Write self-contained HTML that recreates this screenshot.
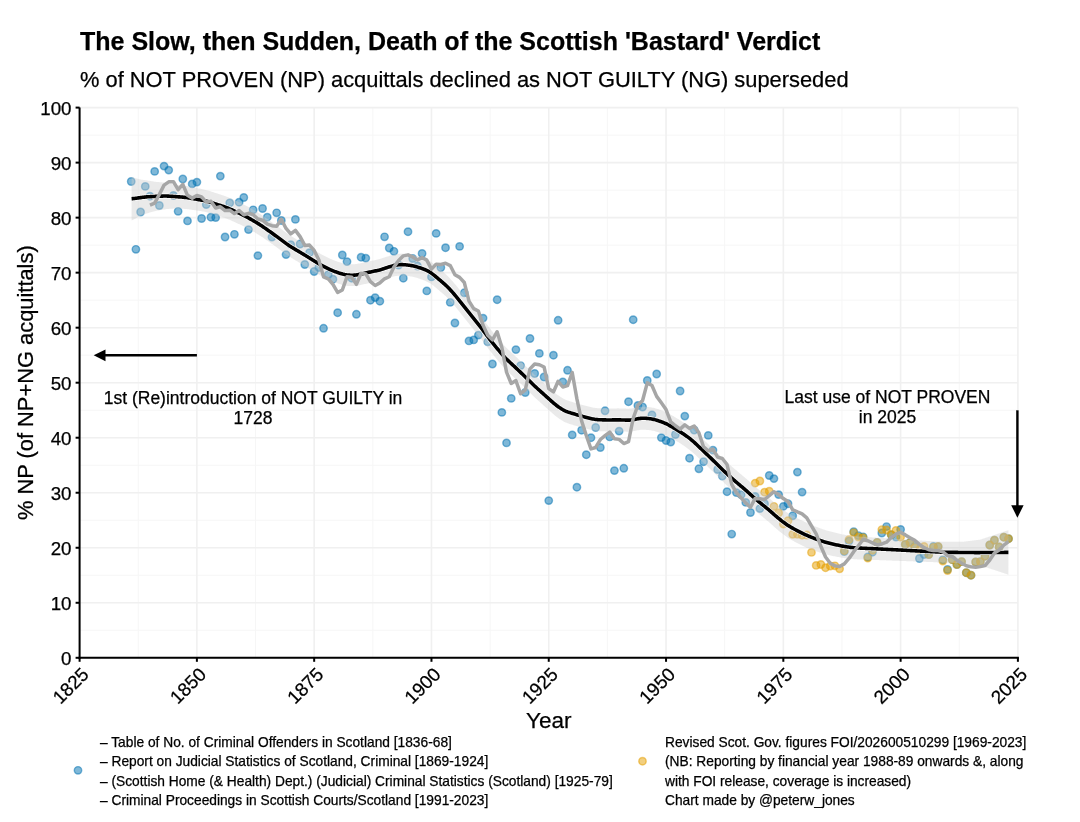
<!DOCTYPE html><html><head><meta charset="utf-8"><style>html,body{margin:0;padding:0;background:#fff;}svg{display:block;will-change:transform;}</style></head><body>
<svg width="1080" height="822" viewBox="0 0 1080 822" style="font-family:'Liberation Sans', sans-serif">
<style>text{stroke:#000;stroke-width:0.25px;}</style>
<rect width="1080" height="822" fill="#fff"/>
<line x1="138.24" y1="107.60" x2="138.24" y2="657.80" stroke="#F6F6F6" stroke-width="1"/><line x1="255.53" y1="107.60" x2="255.53" y2="657.80" stroke="#F6F6F6" stroke-width="1"/><line x1="372.82" y1="107.60" x2="372.82" y2="657.80" stroke="#F6F6F6" stroke-width="1"/><line x1="490.11" y1="107.60" x2="490.11" y2="657.80" stroke="#F6F6F6" stroke-width="1"/><line x1="607.39" y1="107.60" x2="607.39" y2="657.80" stroke="#F6F6F6" stroke-width="1"/><line x1="724.68" y1="107.60" x2="724.68" y2="657.80" stroke="#F6F6F6" stroke-width="1"/><line x1="841.97" y1="107.60" x2="841.97" y2="657.80" stroke="#F6F6F6" stroke-width="1"/><line x1="959.26" y1="107.60" x2="959.26" y2="657.80" stroke="#F6F6F6" stroke-width="1"/><line x1="79.60" y1="630.29" x2="1017.90" y2="630.29" stroke="#F6F6F6" stroke-width="1"/><line x1="79.60" y1="575.27" x2="1017.90" y2="575.27" stroke="#F6F6F6" stroke-width="1"/><line x1="79.60" y1="520.25" x2="1017.90" y2="520.25" stroke="#F6F6F6" stroke-width="1"/><line x1="79.60" y1="465.23" x2="1017.90" y2="465.23" stroke="#F6F6F6" stroke-width="1"/><line x1="79.60" y1="410.21" x2="1017.90" y2="410.21" stroke="#F6F6F6" stroke-width="1"/><line x1="79.60" y1="355.19" x2="1017.90" y2="355.19" stroke="#F6F6F6" stroke-width="1"/><line x1="79.60" y1="300.17" x2="1017.90" y2="300.17" stroke="#F6F6F6" stroke-width="1"/><line x1="79.60" y1="245.15" x2="1017.90" y2="245.15" stroke="#F6F6F6" stroke-width="1"/><line x1="79.60" y1="190.13" x2="1017.90" y2="190.13" stroke="#F6F6F6" stroke-width="1"/><line x1="79.60" y1="135.11" x2="1017.90" y2="135.11" stroke="#F6F6F6" stroke-width="1"/><line x1="79.60" y1="107.60" x2="79.60" y2="657.80" stroke="#F0F0F0" stroke-width="1.6"/><line x1="196.89" y1="107.60" x2="196.89" y2="657.80" stroke="#F0F0F0" stroke-width="1.6"/><line x1="314.17" y1="107.60" x2="314.17" y2="657.80" stroke="#F0F0F0" stroke-width="1.6"/><line x1="431.46" y1="107.60" x2="431.46" y2="657.80" stroke="#F0F0F0" stroke-width="1.6"/><line x1="548.75" y1="107.60" x2="548.75" y2="657.80" stroke="#F0F0F0" stroke-width="1.6"/><line x1="666.04" y1="107.60" x2="666.04" y2="657.80" stroke="#F0F0F0" stroke-width="1.6"/><line x1="783.33" y1="107.60" x2="783.33" y2="657.80" stroke="#F0F0F0" stroke-width="1.6"/><line x1="900.61" y1="107.60" x2="900.61" y2="657.80" stroke="#F0F0F0" stroke-width="1.6"/><line x1="1017.90" y1="107.60" x2="1017.90" y2="657.80" stroke="#F0F0F0" stroke-width="1.6"/><line x1="79.60" y1="657.80" x2="1017.90" y2="657.80" stroke="#F0F0F0" stroke-width="1.6"/><line x1="79.60" y1="602.78" x2="1017.90" y2="602.78" stroke="#F0F0F0" stroke-width="1.6"/><line x1="79.60" y1="547.76" x2="1017.90" y2="547.76" stroke="#F0F0F0" stroke-width="1.6"/><line x1="79.60" y1="492.74" x2="1017.90" y2="492.74" stroke="#F0F0F0" stroke-width="1.6"/><line x1="79.60" y1="437.72" x2="1017.90" y2="437.72" stroke="#F0F0F0" stroke-width="1.6"/><line x1="79.60" y1="382.70" x2="1017.90" y2="382.70" stroke="#F0F0F0" stroke-width="1.6"/><line x1="79.60" y1="327.68" x2="1017.90" y2="327.68" stroke="#F0F0F0" stroke-width="1.6"/><line x1="79.60" y1="272.66" x2="1017.90" y2="272.66" stroke="#F0F0F0" stroke-width="1.6"/><line x1="79.60" y1="217.64" x2="1017.90" y2="217.64" stroke="#F0F0F0" stroke-width="1.6"/><line x1="79.60" y1="162.62" x2="1017.90" y2="162.62" stroke="#F0F0F0" stroke-width="1.6"/><line x1="79.60" y1="107.60" x2="1017.90" y2="107.60" stroke="#F0F0F0" stroke-width="1.6"/>
<g fill="#0072B2" fill-opacity="0.5" stroke="#0072B2" stroke-opacity="0.5" stroke-width="1.45"><circle cx="131.21" cy="181.50" r="3.7"/><circle cx="135.90" cy="249.30" r="3.7"/><circle cx="140.59" cy="212.00" r="3.7"/><circle cx="145.28" cy="186.40" r="3.7"/><circle cx="149.97" cy="196.20" r="3.7"/><circle cx="154.66" cy="171.40" r="3.7"/><circle cx="159.36" cy="205.50" r="3.7"/><circle cx="164.05" cy="166.10" r="3.7"/><circle cx="168.74" cy="170.10" r="3.7"/><circle cx="173.43" cy="195.50" r="3.7"/><circle cx="178.12" cy="211.30" r="3.7"/><circle cx="182.81" cy="179.00" r="3.7"/><circle cx="187.50" cy="220.90" r="3.7"/><circle cx="192.20" cy="183.90" r="3.7"/><circle cx="196.89" cy="182.10" r="3.7"/><circle cx="201.58" cy="218.50" r="3.7"/><circle cx="206.27" cy="204.60" r="3.7"/><circle cx="210.96" cy="217.20" r="3.7"/><circle cx="215.65" cy="217.60" r="3.7"/><circle cx="220.34" cy="176.10" r="3.7"/><circle cx="225.04" cy="237.00" r="3.7"/><circle cx="229.73" cy="202.90" r="3.7"/><circle cx="234.42" cy="234.30" r="3.7"/><circle cx="239.11" cy="202.20" r="3.7"/><circle cx="243.80" cy="197.50" r="3.7"/><circle cx="248.49" cy="229.60" r="3.7"/><circle cx="253.19" cy="209.80" r="3.7"/><circle cx="257.88" cy="255.60" r="3.7"/><circle cx="262.57" cy="208.50" r="3.7"/><circle cx="267.26" cy="217.20" r="3.7"/><circle cx="271.95" cy="237.10" r="3.7"/><circle cx="276.64" cy="212.80" r="3.7"/><circle cx="281.33" cy="220.50" r="3.7"/><circle cx="286.03" cy="254.60" r="3.7"/><circle cx="290.72" cy="244.60" r="3.7"/><circle cx="295.41" cy="219.40" r="3.7"/><circle cx="300.10" cy="244.00" r="3.7"/><circle cx="304.79" cy="264.50" r="3.7"/><circle cx="309.48" cy="252.70" r="3.7"/><circle cx="314.17" cy="271.50" r="3.7"/><circle cx="318.87" cy="267.50" r="3.7"/><circle cx="323.56" cy="328.30" r="3.7"/><circle cx="328.25" cy="274.80" r="3.7"/><circle cx="332.94" cy="279.20" r="3.7"/><circle cx="337.63" cy="312.70" r="3.7"/><circle cx="342.32" cy="255.00" r="3.7"/><circle cx="347.02" cy="261.60" r="3.7"/><circle cx="351.71" cy="278.20" r="3.7"/><circle cx="356.40" cy="314.30" r="3.7"/><circle cx="361.09" cy="257.20" r="3.7"/><circle cx="365.78" cy="258.10" r="3.7"/><circle cx="370.47" cy="300.20" r="3.7"/><circle cx="375.16" cy="297.60" r="3.7"/><circle cx="379.86" cy="301.20" r="3.7"/><circle cx="384.55" cy="236.80" r="3.7"/><circle cx="389.24" cy="248.00" r="3.7"/><circle cx="393.93" cy="251.30" r="3.7"/><circle cx="398.62" cy="265.00" r="3.7"/><circle cx="403.31" cy="278.20" r="3.7"/><circle cx="408.00" cy="231.70" r="3.7"/><circle cx="412.70" cy="258.50" r="3.7"/><circle cx="417.39" cy="266.00" r="3.7"/><circle cx="422.08" cy="253.50" r="3.7"/><circle cx="426.77" cy="290.90" r="3.7"/><circle cx="431.46" cy="276.90" r="3.7"/><circle cx="436.15" cy="233.40" r="3.7"/><circle cx="440.85" cy="267.50" r="3.7"/><circle cx="445.54" cy="247.70" r="3.7"/><circle cx="450.23" cy="302.40" r="3.7"/><circle cx="454.92" cy="323.00" r="3.7"/><circle cx="459.61" cy="246.40" r="3.7"/><circle cx="464.30" cy="292.80" r="3.7"/><circle cx="468.99" cy="340.90" r="3.7"/><circle cx="473.69" cy="339.90" r="3.7"/><circle cx="478.38" cy="335.10" r="3.7"/><circle cx="483.07" cy="318.10" r="3.7"/><circle cx="487.76" cy="341.80" r="3.7"/><circle cx="492.45" cy="364.00" r="3.7"/><circle cx="497.14" cy="299.70" r="3.7"/><circle cx="501.84" cy="412.40" r="3.7"/><circle cx="506.53" cy="442.90" r="3.7"/><circle cx="511.22" cy="398.40" r="3.7"/><circle cx="515.91" cy="349.60" r="3.7"/><circle cx="520.60" cy="365.60" r="3.7"/><circle cx="525.29" cy="392.50" r="3.7"/><circle cx="529.98" cy="338.50" r="3.7"/><circle cx="534.68" cy="373.50" r="3.7"/><circle cx="539.37" cy="353.40" r="3.7"/><circle cx="544.06" cy="377.00" r="3.7"/><circle cx="548.75" cy="500.60" r="3.7"/><circle cx="553.44" cy="355.20" r="3.7"/><circle cx="558.13" cy="320.30" r="3.7"/><circle cx="562.82" cy="381.90" r="3.7"/><circle cx="567.52" cy="370.30" r="3.7"/><circle cx="572.21" cy="434.90" r="3.7"/><circle cx="576.90" cy="487.20" r="3.7"/><circle cx="581.59" cy="430.20" r="3.7"/><circle cx="586.28" cy="454.70" r="3.7"/><circle cx="590.97" cy="437.70" r="3.7"/><circle cx="595.67" cy="427.50" r="3.7"/><circle cx="600.36" cy="447.50" r="3.7"/><circle cx="605.05" cy="410.80" r="3.7"/><circle cx="609.74" cy="436.90" r="3.7"/><circle cx="614.43" cy="470.60" r="3.7"/><circle cx="619.12" cy="431.10" r="3.7"/><circle cx="623.81" cy="468.30" r="3.7"/><circle cx="628.51" cy="401.70" r="3.7"/><circle cx="633.20" cy="319.70" r="3.7"/><circle cx="637.89" cy="405.50" r="3.7"/><circle cx="642.58" cy="407.00" r="3.7"/><circle cx="647.27" cy="380.50" r="3.7"/><circle cx="651.96" cy="415.00" r="3.7"/><circle cx="656.65" cy="374.00" r="3.7"/><circle cx="661.35" cy="437.60" r="3.7"/><circle cx="666.04" cy="440.50" r="3.7"/><circle cx="670.73" cy="442.10" r="3.7"/><circle cx="675.42" cy="434.50" r="3.7"/><circle cx="680.11" cy="391.00" r="3.7"/><circle cx="684.80" cy="416.10" r="3.7"/><circle cx="689.50" cy="458.20" r="3.7"/><circle cx="694.19" cy="430.00" r="3.7"/><circle cx="698.88" cy="468.80" r="3.7"/><circle cx="703.57" cy="461.70" r="3.7"/><circle cx="708.26" cy="435.40" r="3.7"/><circle cx="712.95" cy="450.10" r="3.7"/><circle cx="717.64" cy="469.50" r="3.7"/><circle cx="722.34" cy="476.00" r="3.7"/><circle cx="727.03" cy="491.70" r="3.7"/><circle cx="731.72" cy="534.10" r="3.7"/><circle cx="736.41" cy="492.60" r="3.7"/><circle cx="741.10" cy="494.70" r="3.7"/><circle cx="745.79" cy="502.40" r="3.7"/><circle cx="750.48" cy="512.50" r="3.7"/><circle cx="755.18" cy="496.50" r="3.7"/><circle cx="759.87" cy="508.60" r="3.7"/><circle cx="764.56" cy="503.70" r="3.7"/><circle cx="769.25" cy="475.50" r="3.7"/><circle cx="773.94" cy="478.60" r="3.7"/><circle cx="778.63" cy="494.60" r="3.7"/><circle cx="783.33" cy="506.40" r="3.7"/><circle cx="788.02" cy="503.70" r="3.7"/><circle cx="792.71" cy="515.80" r="3.7"/><circle cx="797.40" cy="472.10" r="3.7"/><circle cx="802.09" cy="492.10" r="3.7"/><circle cx="844.31" cy="551.50" r="3.7"/><circle cx="849.01" cy="541.10" r="3.7"/><circle cx="853.70" cy="531.70" r="3.7"/><circle cx="858.39" cy="535.60" r="3.7"/><circle cx="863.08" cy="536.80" r="3.7"/><circle cx="867.77" cy="557.00" r="3.7"/><circle cx="872.46" cy="552.20" r="3.7"/><circle cx="877.15" cy="542.40" r="3.7"/><circle cx="881.85" cy="533.00" r="3.7"/><circle cx="886.54" cy="526.60" r="3.7"/><circle cx="891.23" cy="534.70" r="3.7"/><circle cx="895.92" cy="537.10" r="3.7"/><circle cx="900.61" cy="529.40" r="3.7"/><circle cx="905.30" cy="544.40" r="3.7"/><circle cx="910.00" cy="542.40" r="3.7"/><circle cx="914.69" cy="546.40" r="3.7"/><circle cx="919.38" cy="558.50" r="3.7"/><circle cx="924.07" cy="554.50" r="3.7"/><circle cx="928.76" cy="554.50" r="3.7"/><circle cx="933.45" cy="546.40" r="3.7"/><circle cx="938.14" cy="546.60" r="3.7"/><circle cx="942.84" cy="559.80" r="3.7"/><circle cx="947.53" cy="569.50" r="3.7"/><circle cx="952.22" cy="559.60" r="3.7"/><circle cx="956.91" cy="564.50" r="3.7"/><circle cx="961.60" cy="561.60" r="3.7"/><circle cx="966.29" cy="572.70" r="3.7"/><circle cx="970.99" cy="575.20" r="3.7"/><circle cx="975.68" cy="562.00" r="3.7"/><circle cx="980.37" cy="561.60" r="3.7"/><circle cx="985.06" cy="556.20" r="3.7"/><circle cx="989.75" cy="545.00" r="3.7"/><circle cx="994.44" cy="540.20" r="3.7"/><circle cx="999.13" cy="547.00" r="3.7"/><circle cx="1003.83" cy="537.20" r="3.7"/><circle cx="1008.52" cy="538.70" r="3.7"/></g>
<g fill="#E69F00" fill-opacity="0.5" stroke="#E69F00" stroke-opacity="0.5" stroke-width="1.45"><circle cx="755.18" cy="483.10" r="3.7"/><circle cx="759.87" cy="481.00" r="3.7"/><circle cx="764.56" cy="492.20" r="3.7"/><circle cx="769.25" cy="491.20" r="3.7"/><circle cx="773.94" cy="506.50" r="3.7"/><circle cx="778.63" cy="513.00" r="3.7"/><circle cx="783.33" cy="524.10" r="3.7"/><circle cx="788.02" cy="520.70" r="3.7"/><circle cx="792.71" cy="534.30" r="3.7"/><circle cx="797.40" cy="534.30" r="3.7"/><circle cx="802.09" cy="535.20" r="3.7"/><circle cx="806.78" cy="535.00" r="3.7"/><circle cx="811.47" cy="552.40" r="3.7"/><circle cx="816.17" cy="565.40" r="3.7"/><circle cx="820.86" cy="564.50" r="3.7"/><circle cx="825.55" cy="567.70" r="3.7"/><circle cx="830.24" cy="566.00" r="3.7"/><circle cx="834.93" cy="565.80" r="3.7"/><circle cx="839.62" cy="568.80" r="3.7"/><circle cx="844.31" cy="550.70" r="3.7"/><circle cx="849.01" cy="539.60" r="3.7"/><circle cx="853.70" cy="532.60" r="3.7"/><circle cx="858.39" cy="537.10" r="3.7"/><circle cx="863.08" cy="537.70" r="3.7"/><circle cx="867.77" cy="558.10" r="3.7"/><circle cx="872.46" cy="550.30" r="3.7"/><circle cx="877.15" cy="542.40" r="3.7"/><circle cx="881.85" cy="529.60" r="3.7"/><circle cx="886.54" cy="530.00" r="3.7"/><circle cx="891.23" cy="534.70" r="3.7"/><circle cx="895.92" cy="530.40" r="3.7"/><circle cx="900.61" cy="537.10" r="3.7"/><circle cx="905.30" cy="544.50" r="3.7"/><circle cx="910.00" cy="542.80" r="3.7"/><circle cx="914.69" cy="547.60" r="3.7"/><circle cx="919.38" cy="549.80" r="3.7"/><circle cx="924.07" cy="546.40" r="3.7"/><circle cx="928.76" cy="554.50" r="3.7"/><circle cx="933.45" cy="547.30" r="3.7"/><circle cx="938.14" cy="546.40" r="3.7"/><circle cx="942.84" cy="561.00" r="3.7"/><circle cx="947.53" cy="570.50" r="3.7"/><circle cx="952.22" cy="559.60" r="3.7"/><circle cx="956.91" cy="564.50" r="3.7"/><circle cx="961.60" cy="561.60" r="3.7"/><circle cx="966.29" cy="572.70" r="3.7"/><circle cx="970.99" cy="575.20" r="3.7"/><circle cx="975.68" cy="562.00" r="3.7"/><circle cx="980.37" cy="561.60" r="3.7"/><circle cx="985.06" cy="556.20" r="3.7"/><circle cx="989.75" cy="545.00" r="3.7"/><circle cx="994.44" cy="540.20" r="3.7"/><circle cx="999.13" cy="547.00" r="3.7"/><circle cx="1003.83" cy="537.20" r="3.7"/><circle cx="1008.52" cy="538.70" r="3.7"/></g>
<path d="M131.60,176.90 L132.60,177.24 L133.60,177.57 L134.60,177.88 L135.60,178.18 L136.60,178.47 L137.60,178.75 L138.60,179.04 L139.60,179.32 L140.60,179.60 L141.60,179.70 L142.60,179.80 L143.60,179.91 L144.60,180.04 L145.60,180.17 L146.60,180.32 L147.60,180.47 L148.60,180.64 L149.60,180.82 L150.60,181.00 L151.60,181.18 L152.60,181.36 L153.60,181.55 L154.60,181.73 L155.60,181.83 L156.60,181.91 L157.60,182.00 L158.60,182.09 L159.60,182.18 L160.60,182.27 L161.60,182.37 L162.60,182.47 L163.60,182.58 L164.60,182.71 L165.60,182.85 L166.60,183.00 L167.60,183.17 L168.60,183.36 L169.60,183.55 L170.60,183.76 L171.60,183.96 L172.60,184.17 L173.60,184.38 L174.60,184.59 L175.60,184.80 L176.60,184.92 L177.60,185.02 L178.60,185.12 L179.60,185.22 L180.60,185.33 L181.60,185.43 L182.60,185.54 L183.60,185.66 L184.60,185.78 L185.60,185.92 L186.60,186.07 L187.60,186.24 L188.60,186.41 L189.60,186.60 L190.60,186.79 L191.60,186.99 L192.60,187.19 L193.60,187.39 L194.60,187.59 L195.60,187.80 L196.60,188.00 L197.60,188.20 L198.60,188.41 L199.60,188.61 L200.60,188.81 L201.60,189.02 L202.60,189.24 L203.60,189.46 L204.60,189.69 L205.60,189.94 L206.60,190.20 L207.60,190.46 L208.60,190.75 L209.60,191.04 L210.60,191.35 L211.60,191.67 L212.60,191.99 L213.60,192.32 L214.60,192.64 L215.60,192.97 L216.60,193.29 L217.60,193.62 L218.60,193.94 L219.60,194.27 L220.60,194.60 L221.60,194.93 L222.60,195.26 L223.60,195.60 L224.60,195.95 L225.60,196.31 L226.60,196.69 L227.60,197.09 L228.60,197.50 L229.60,197.93 L230.60,198.37 L231.60,198.82 L232.60,199.28 L233.60,199.73 L234.60,200.19 L235.60,200.65 L236.60,201.11 L237.60,201.57 L238.60,202.03 L239.60,202.50 L240.60,202.97 L241.60,203.44 L242.60,203.92 L243.60,204.42 L244.60,204.93 L245.60,205.46 L246.60,206.00 L247.60,206.55 L248.60,207.12 L249.60,207.69 L250.60,208.26 L251.60,208.84 L252.60,209.41 L253.60,209.99 L254.60,210.58 L255.60,211.17 L256.60,211.76 L257.60,212.37 L258.60,212.99 L259.60,213.63 L260.60,214.28 L261.60,214.95 L262.60,215.63 L263.60,216.32 L264.60,217.02 L265.60,217.71 L266.60,218.41 L267.60,219.12 L268.60,219.82 L269.60,220.52 L270.60,221.23 L271.60,221.94 L272.60,222.66 L273.60,223.38 L274.60,224.11 L275.60,224.85 L276.60,225.59 L277.60,226.34 L278.60,227.09 L279.60,227.84 L280.60,228.60 L281.60,229.35 L282.60,230.11 L283.60,230.86 L284.60,231.60 L285.60,232.33 L286.60,233.06 L287.60,233.76 L288.60,234.44 L289.60,235.11 L290.60,235.75 L291.60,236.37 L292.60,236.99 L293.60,237.59 L294.60,238.19 L295.60,238.79 L296.60,239.39 L297.60,239.98 L298.60,240.58 L299.60,241.17 L300.60,241.77 L301.60,242.36 L302.60,242.96 L303.60,243.56 L304.60,244.16 L305.60,244.76 L306.60,245.37 L307.60,245.98 L308.60,246.60 L309.60,247.22 L310.60,247.84 L311.60,248.47 L312.60,249.09 L313.60,249.72 L314.60,250.35 L315.60,250.97 L316.60,251.59 L317.60,252.20 L318.60,252.79 L319.60,253.37 L320.60,253.93 L321.60,254.47 L322.60,255.00 L323.60,255.52 L324.60,256.02 L325.60,256.52 L326.60,257.02 L327.60,257.51 L328.60,257.99 L329.60,258.46 L330.60,258.93 L331.60,259.37 L332.60,259.79 L333.60,260.19 L334.60,260.58 L335.60,260.94 L336.60,261.29 L337.60,261.64 L338.60,261.97 L339.60,262.30 L340.60,262.62 L341.60,262.93 L342.60,263.21 L343.60,263.47 L344.60,263.69 L345.60,263.87 L346.60,264.02 L347.60,264.13 L348.60,264.21 L349.60,264.26 L350.60,264.30 L351.60,264.32 L352.60,264.32 L353.60,264.28 L354.60,264.22 L355.60,264.12 L356.60,263.98 L357.60,263.82 L358.60,263.62 L359.60,263.42 L360.60,263.20 L361.60,262.97 L362.60,262.74 L363.60,262.52 L364.60,262.29 L365.60,262.07 L366.60,261.85 L367.60,261.64 L368.60,261.43 L369.60,261.22 L370.60,261.01 L371.60,260.80 L372.60,260.59 L373.60,260.39 L374.60,260.18 L375.60,259.96 L376.60,259.74 L377.60,259.51 L378.60,259.27 L379.60,259.01 L380.60,258.73 L381.60,258.43 L382.60,258.12 L383.60,257.79 L384.60,257.46 L385.60,257.12 L386.60,256.78 L387.60,256.45 L388.60,256.13 L389.60,255.81 L390.60,255.50 L391.60,255.20 L392.60,254.91 L393.60,254.65 L394.60,254.40 L395.60,254.19 L396.60,254.02 L397.60,253.89 L398.60,253.79 L399.60,253.73 L400.60,253.70 L401.60,253.69 L402.60,253.70 L403.60,253.73 L404.60,253.79 L405.60,253.86 L406.60,253.95 L407.60,254.06 L408.60,254.19 L409.60,254.33 L410.60,254.49 L411.60,254.67 L412.60,254.86 L413.60,255.08 L414.60,255.31 L415.60,255.57 L416.60,255.84 L417.60,256.13 L418.60,256.43 L419.60,256.74 L420.60,257.07 L421.60,257.41 L422.60,257.77 L423.60,258.15 L424.60,258.55 L425.60,258.96 L426.60,259.41 L427.60,259.89 L428.60,260.41 L429.60,260.99 L430.60,261.63 L431.60,262.32 L432.60,263.06 L433.60,263.85 L434.60,264.66 L435.60,265.49 L436.60,266.33 L437.60,267.17 L438.60,268.01 L439.60,268.85 L440.60,269.69 L441.60,270.53 L442.60,271.38 L443.60,272.25 L444.60,273.13 L445.60,274.05 L446.60,274.99 L447.60,275.98 L448.60,277.00 L449.60,278.05 L450.60,279.13 L451.60,280.23 L452.60,281.35 L453.60,282.50 L454.60,283.66 L455.60,284.85 L456.60,286.06 L457.60,287.29 L458.60,288.53 L459.60,289.79 L460.60,291.05 L461.60,292.31 L462.60,293.57 L463.60,294.84 L464.60,296.10 L465.60,297.35 L466.60,298.60 L467.60,299.85 L468.60,301.09 L469.60,302.32 L470.60,303.55 L471.60,304.78 L472.60,306.00 L473.60,307.22 L474.60,308.45 L475.60,309.68 L476.60,310.92 L477.60,312.17 L478.60,313.43 L479.60,314.71 L480.60,316.00 L481.60,317.31 L482.60,318.63 L483.60,319.96 L484.60,321.29 L485.60,322.63 L486.60,323.96 L487.60,325.29 L488.60,326.62 L489.60,327.93 L490.60,329.22 L491.60,330.50 L492.60,331.76 L493.60,333.00 L494.60,334.23 L495.60,335.44 L496.60,336.65 L497.60,337.85 L498.60,339.04 L499.60,340.23 L500.60,341.42 L501.60,342.58 L502.60,343.73 L503.60,344.85 L504.60,345.93 L505.60,346.98 L506.60,347.99 L507.60,348.96 L508.60,349.91 L509.60,350.85 L510.60,351.77 L511.60,352.69 L512.60,353.62 L513.60,354.55 L514.60,355.48 L515.60,356.41 L516.60,357.35 L517.60,358.30 L518.60,359.24 L519.60,360.19 L520.60,361.14 L521.60,362.10 L522.60,363.05 L523.60,364.01 L524.60,364.97 L525.60,365.94 L526.60,366.91 L527.60,367.89 L528.60,368.87 L529.60,369.85 L530.60,370.83 L531.60,371.81 L532.60,372.78 L533.60,373.74 L534.60,374.68 L535.60,375.61 L536.60,376.53 L537.60,377.44 L538.60,378.34 L539.60,379.23 L540.60,380.13 L541.60,381.02 L542.60,381.92 L543.60,382.82 L544.60,383.72 L545.60,384.62 L546.60,385.52 L547.60,386.42 L548.60,387.32 L549.60,388.22 L550.60,389.11 L551.60,390.00 L552.60,390.88 L553.60,391.74 L554.60,392.58 L555.60,393.38 L556.60,394.16 L557.60,394.90 L558.60,395.61 L559.60,396.29 L560.60,396.94 L561.60,397.57 L562.60,398.17 L563.60,398.72 L564.60,399.24 L565.60,399.71 L566.60,400.13 L567.60,400.52 L568.60,400.87 L569.60,401.20 L570.60,401.51 L571.60,401.82 L572.60,402.12 L573.60,402.42 L574.60,402.72 L575.60,403.01 L576.60,403.31 L577.60,403.60 L578.60,403.88 L579.60,404.16 L580.60,404.44 L581.60,404.71 L582.60,404.97 L583.60,405.23 L584.60,405.49 L585.60,405.75 L586.60,406.01 L587.60,406.27 L588.60,406.52 L589.60,406.77 L590.60,407.02 L591.60,407.25 L592.60,407.47 L593.60,407.67 L594.60,407.84 L595.60,407.98 L596.60,408.09 L597.60,408.17 L598.60,408.23 L599.60,408.28 L600.60,408.32 L601.60,408.36 L602.60,408.39 L603.60,408.41 L604.60,408.44 L605.60,408.45 L606.60,408.47 L607.60,408.48 L608.60,408.48 L609.60,408.47 L610.60,408.46 L611.60,408.45 L612.60,408.43 L613.60,408.42 L614.60,408.40 L615.60,408.39 L616.60,408.38 L617.60,408.37 L618.60,408.37 L619.60,408.38 L620.60,408.41 L621.60,408.44 L622.60,408.48 L623.60,408.52 L624.60,408.57 L625.60,408.61 L626.60,408.64 L627.60,408.66 L628.60,408.64 L629.60,408.60 L630.60,408.52 L631.60,408.40 L632.60,408.26 L633.60,408.09 L634.60,407.90 L635.60,407.70 L636.60,407.50 L637.60,407.31 L638.60,407.13 L639.60,406.98 L640.60,406.86 L641.60,406.77 L642.60,406.73 L643.60,406.73 L644.60,406.76 L645.60,406.81 L646.60,406.89 L647.60,406.98 L648.60,407.08 L649.60,407.19 L650.60,407.32 L651.60,407.47 L652.60,407.65 L653.60,407.87 L654.60,408.11 L655.60,408.39 L656.60,408.69 L657.60,409.00 L658.60,409.34 L659.60,409.68 L660.60,410.02 L661.60,410.38 L662.60,410.75 L663.60,411.14 L664.60,411.55 L665.60,412.00 L666.60,412.47 L667.60,412.97 L668.60,413.50 L669.60,414.06 L670.60,414.62 L671.60,415.20 L672.60,415.78 L673.60,416.36 L674.60,416.95 L675.60,417.54 L676.60,418.13 L677.60,418.74 L678.60,419.35 L679.60,419.97 L680.60,420.61 L681.60,421.27 L682.60,421.93 L683.60,422.61 L684.60,423.29 L685.60,423.98 L686.60,424.69 L687.60,425.40 L688.60,426.14 L689.60,426.90 L690.60,427.69 L691.60,428.52 L692.60,429.38 L693.60,430.27 L694.60,431.18 L695.60,432.11 L696.60,433.05 L697.60,434.00 L698.60,434.95 L699.60,435.91 L700.60,436.86 L701.60,437.81 L702.60,438.77 L703.60,439.72 L704.60,440.68 L705.60,441.63 L706.60,442.59 L707.60,443.54 L708.60,444.50 L709.60,445.46 L710.60,446.42 L711.60,447.39 L712.60,448.36 L713.60,449.33 L714.60,450.30 L715.60,451.28 L716.60,452.27 L717.60,453.25 L718.60,454.23 L719.60,455.22 L720.60,456.19 L721.60,457.16 L722.60,458.12 L723.60,459.07 L724.60,460.00 L725.60,460.93 L726.60,461.84 L727.60,462.74 L728.60,463.63 L729.60,464.52 L730.60,465.41 L731.60,466.29 L732.60,467.17 L733.60,468.04 L734.60,468.91 L735.60,469.76 L736.60,470.62 L737.60,471.46 L738.60,472.30 L739.60,473.14 L740.60,473.98 L741.60,474.82 L742.60,475.66 L743.60,476.51 L744.60,477.36 L745.60,478.22 L746.60,479.09 L747.60,479.97 L748.60,480.85 L749.60,481.74 L750.60,482.63 L751.60,483.52 L752.60,484.41 L753.60,485.29 L754.60,486.17 L755.60,487.03 L756.60,487.89 L757.60,488.72 L758.60,489.55 L759.60,490.36 L760.60,491.17 L761.60,491.96 L762.60,492.76 L763.60,493.56 L764.60,494.35 L765.60,495.15 L766.60,495.96 L767.60,496.77 L768.60,497.60 L769.60,498.44 L770.60,499.29 L771.60,500.15 L772.60,501.02 L773.60,501.90 L774.60,502.77 L775.60,503.64 L776.60,504.50 L777.60,505.34 L778.60,506.17 L779.60,506.97 L780.60,507.76 L781.60,508.52 L782.60,509.28 L783.60,510.02 L784.60,510.74 L785.60,511.45 L786.60,512.13 L787.60,512.79 L788.60,513.43 L789.60,514.04 L790.60,514.62 L791.60,515.19 L792.60,515.75 L793.60,516.29 L794.60,516.83 L795.60,517.36 L796.60,517.88 L797.60,518.39 L798.60,518.90 L799.60,519.39 L800.60,519.88 L801.60,520.37 L802.60,520.86 L803.60,521.36 L804.60,521.86 L805.60,522.34 L806.60,522.80 L807.60,523.26 L808.60,523.70 L809.60,524.14 L810.60,524.56 L811.60,524.98 L812.60,525.40 L813.60,525.80 L814.60,526.21 L815.60,526.60 L816.60,526.99 L817.60,527.37 L818.60,527.75 L819.60,528.12 L820.60,528.48 L821.60,528.84 L822.60,529.19 L823.60,529.53 L824.60,529.86 L825.60,530.17 L826.60,530.47 L827.60,530.76 L828.60,531.04 L829.60,531.31 L830.60,531.58 L831.60,531.84 L832.60,532.10 L833.60,532.35 L834.60,532.59 L835.60,532.83 L836.60,533.07 L837.60,533.30 L838.60,533.53 L839.60,533.75 L840.60,533.97 L841.60,534.18 L842.60,534.39 L843.60,534.59 L844.60,534.78 L845.60,534.97 L846.60,535.15 L847.60,535.32 L848.60,535.48 L849.60,535.64 L850.60,535.79 L851.60,535.93 L852.60,536.06 L853.60,536.17 L854.60,536.26 L855.60,536.35 L856.60,536.42 L857.60,536.49 L858.60,536.56 L859.60,536.62 L860.60,536.68 L861.60,536.74 L862.60,536.81 L863.60,536.87 L864.60,536.93 L865.60,536.99 L866.60,537.06 L867.60,537.12 L868.60,537.18 L869.60,537.24 L870.60,537.31 L871.60,537.37 L872.60,537.43 L873.60,537.49 L874.60,537.55 L875.60,537.62 L876.60,537.68 L877.60,537.74 L878.60,537.80 L879.60,537.87 L880.60,537.93 L881.60,537.99 L882.60,538.06 L883.60,538.12 L884.60,538.18 L885.60,538.25 L886.60,538.31 L887.60,538.38 L888.60,538.44 L889.60,538.51 L890.60,538.57 L891.60,538.64 L892.60,538.70 L893.60,538.76 L894.60,538.83 L895.60,538.89 L896.60,538.96 L897.60,539.02 L898.60,539.09 L899.60,539.15 L900.60,539.22 L901.60,539.28 L902.60,539.35 L903.60,539.41 L904.60,539.48 L905.60,539.54 L906.60,539.60 L907.60,539.67 L908.60,539.73 L909.60,539.80 L910.60,539.86 L911.60,539.93 L912.60,539.99 L913.60,540.06 L914.60,540.12 L915.60,540.19 L916.60,540.25 L917.60,540.32 L918.60,540.38 L919.60,540.44 L920.60,540.51 L921.60,540.57 L922.60,540.64 L923.60,540.70 L924.60,540.77 L925.60,540.83 L926.60,540.90 L927.60,540.96 L928.60,541.03 L929.60,541.09 L930.60,541.15 L931.60,541.22 L932.60,541.28 L933.60,541.35 L934.60,541.39 L935.60,541.43 L936.60,541.48 L937.60,541.52 L938.60,541.56 L939.60,541.60 L940.60,541.65 L941.60,541.68 L942.60,541.72 L943.60,541.75 L944.60,541.77 L945.60,541.79 L946.60,541.81 L947.60,541.82 L948.60,541.83 L949.60,541.83 L950.60,541.84 L951.60,541.84 L952.60,541.84 L953.60,541.84 L954.60,541.85 L955.60,541.85 L956.60,541.85 L957.60,541.85 L958.60,541.86 L959.60,541.86 L960.60,541.86 L961.60,541.86 L962.60,541.74 L963.60,541.63 L964.60,541.51 L965.60,541.39 L966.60,541.27 L967.60,541.15 L968.60,541.03 L969.60,540.92 L970.60,540.80 L971.60,540.68 L972.60,540.56 L973.60,540.44 L974.60,540.31 L975.60,540.19 L976.60,540.06 L977.60,539.94 L978.60,539.81 L979.60,539.67 L980.60,539.50 L981.60,539.17 L982.60,538.84 L983.60,538.51 L984.60,538.18 L985.60,537.85 L986.60,537.52 L987.60,537.19 L988.60,536.86 L989.60,536.53 L990.60,536.21 L991.60,535.88 L992.60,535.55 L993.60,535.22 L994.60,534.89 L995.60,534.56 L996.60,534.22 L997.60,533.87 L998.60,533.53 L999.60,533.18 L1000.60,532.84 L1001.60,532.49 L1002.60,532.14 L1003.60,531.80 L1004.60,531.45 L1005.60,531.11 L1006.60,530.76 L1007.60,530.42 L1008.40,530.15 L1008.40,574.67 L1007.60,574.40 L1006.60,574.06 L1005.60,573.73 L1004.60,573.39 L1003.60,573.06 L1002.60,572.73 L1001.60,572.39 L1000.60,572.06 L999.60,571.73 L998.60,571.39 L997.60,571.06 L996.60,570.73 L995.60,570.40 L994.60,570.08 L993.60,569.76 L992.60,569.45 L991.60,569.13 L990.60,568.81 L989.60,568.50 L988.60,568.18 L987.60,567.86 L986.60,567.55 L985.60,567.23 L984.60,566.91 L983.60,566.60 L982.60,566.28 L981.60,565.96 L980.60,565.65 L979.60,565.48 L978.60,565.35 L977.60,565.23 L976.60,565.10 L975.60,564.97 L974.60,564.84 L973.60,564.71 L972.60,564.57 L971.60,564.44 L970.60,564.30 L969.60,564.16 L968.60,564.02 L967.60,563.89 L966.60,563.75 L965.60,563.61 L964.60,563.47 L963.60,563.34 L962.60,563.20 L961.60,563.06 L960.60,563.05 L959.60,563.03 L958.60,563.01 L957.60,563.00 L956.60,562.98 L955.60,562.96 L954.60,562.95 L953.60,562.93 L952.60,562.91 L951.60,562.90 L950.60,562.88 L949.60,562.86 L948.60,562.84 L947.60,562.82 L946.60,562.80 L945.60,562.77 L944.60,562.73 L943.60,562.69 L942.60,562.65 L941.60,562.60 L940.60,562.55 L939.60,562.49 L938.60,562.44 L937.60,562.38 L936.60,562.32 L935.60,562.26 L934.60,562.21 L933.60,562.15 L932.60,562.11 L931.60,562.07 L930.60,562.03 L929.60,562.00 L928.60,561.96 L927.60,561.92 L926.60,561.89 L925.60,561.85 L924.60,561.81 L923.60,561.77 L922.60,561.74 L921.60,561.70 L920.60,561.66 L919.60,561.63 L918.60,561.59 L917.60,561.55 L916.60,561.52 L915.60,561.48 L914.60,561.44 L913.60,561.40 L912.60,561.37 L911.60,561.33 L910.60,561.29 L909.60,561.26 L908.60,561.22 L907.60,561.18 L906.60,561.15 L905.60,561.11 L904.60,561.07 L903.60,561.03 L902.60,561.00 L901.60,560.96 L900.60,560.92 L899.60,560.89 L898.60,560.85 L897.60,560.81 L896.60,560.78 L895.60,560.74 L894.60,560.70 L893.60,560.66 L892.60,560.63 L891.60,560.59 L890.60,560.55 L889.60,560.52 L888.60,560.48 L887.60,560.44 L886.60,560.41 L885.60,560.37 L884.60,560.33 L883.60,560.30 L882.60,560.26 L881.60,560.22 L880.60,560.19 L879.60,560.15 L878.60,560.12 L877.60,560.08 L876.60,560.05 L875.60,560.01 L874.60,559.98 L873.60,559.94 L872.60,559.91 L871.60,559.87 L870.60,559.84 L869.60,559.80 L868.60,559.77 L867.60,559.73 L866.60,559.70 L865.60,559.67 L864.60,559.63 L863.60,559.60 L862.60,559.56 L861.60,559.53 L860.60,559.49 L859.60,559.46 L858.60,559.42 L857.60,559.38 L856.60,559.34 L855.60,559.29 L854.60,559.24 L853.60,559.17 L852.60,559.10 L851.60,559.01 L850.60,558.91 L849.60,558.80 L848.60,558.68 L847.60,558.55 L846.60,558.42 L845.60,558.28 L844.60,558.13 L843.60,557.98 L842.60,557.82 L841.60,557.65 L840.60,557.48 L839.60,557.30 L838.60,557.11 L837.60,556.93 L836.60,556.73 L835.60,556.54 L834.60,556.33 L833.60,556.13 L832.60,555.91 L831.60,555.69 L830.60,555.47 L829.60,555.24 L828.60,555.01 L827.60,554.77 L826.60,554.52 L825.60,554.26 L824.60,553.98 L823.60,553.70 L822.60,553.40 L821.60,553.09 L820.60,552.77 L819.60,552.44 L818.60,552.11 L817.60,551.77 L816.60,551.43 L815.60,551.08 L814.60,550.72 L813.60,550.36 L812.60,549.99 L811.60,549.61 L810.60,549.23 L809.60,548.85 L808.60,548.45 L807.60,548.05 L806.60,547.63 L805.60,547.20 L804.60,546.76 L803.60,546.31 L802.60,545.84 L801.60,545.36 L800.60,544.85 L799.60,544.34 L798.60,543.82 L797.60,543.29 L796.60,542.76 L795.60,542.21 L794.60,541.66 L793.60,541.10 L792.60,540.54 L791.60,539.96 L790.60,539.37 L789.60,538.76 L788.60,538.13 L787.60,537.47 L786.60,536.79 L785.60,536.08 L784.60,535.35 L783.60,534.60 L782.60,533.84 L781.60,533.07 L780.60,532.27 L779.60,531.47 L778.60,530.64 L777.60,529.79 L776.60,528.93 L775.60,528.05 L774.60,527.16 L773.60,526.26 L772.60,525.36 L771.60,524.47 L770.60,523.58 L769.60,522.71 L768.60,521.85 L767.60,521.00 L766.60,520.16 L765.60,519.33 L764.60,518.51 L763.60,517.69 L762.60,516.87 L761.60,516.06 L760.60,515.23 L759.60,514.41 L758.60,513.57 L757.60,512.73 L756.60,511.87 L755.60,510.99 L754.60,510.10 L753.60,509.21 L752.60,508.30 L751.60,507.39 L750.60,506.47 L749.60,505.56 L748.60,504.65 L747.60,503.74 L746.60,502.84 L745.60,501.95 L744.60,501.07 L743.60,500.19 L742.60,499.33 L741.60,498.46 L740.60,497.60 L739.60,496.74 L738.60,495.88 L737.60,495.01 L736.60,494.15 L735.60,493.27 L734.60,492.39 L733.60,491.50 L732.60,490.61 L731.60,489.71 L730.60,488.80 L729.60,487.90 L728.60,486.98 L727.60,486.07 L726.60,485.14 L725.60,484.21 L724.60,483.27 L723.60,482.31 L722.60,481.34 L721.60,480.36 L720.60,479.36 L719.60,478.36 L718.60,477.36 L717.60,476.35 L716.60,475.35 L715.60,474.34 L714.60,473.34 L713.60,472.35 L712.60,471.36 L711.60,470.39 L710.60,469.42 L709.60,468.46 L708.60,467.50 L707.60,466.54 L706.60,465.59 L705.60,464.63 L704.60,463.68 L703.60,462.72 L702.60,461.77 L701.60,460.81 L700.60,459.86 L699.60,458.91 L698.60,457.95 L697.60,457.00 L696.60,456.05 L695.60,455.11 L694.60,454.18 L693.60,453.27 L692.60,452.38 L691.60,451.52 L690.60,450.69 L689.60,449.90 L688.60,449.14 L687.60,448.40 L686.60,447.69 L685.60,446.98 L684.60,446.29 L683.60,445.61 L682.60,444.93 L681.60,444.27 L680.60,443.61 L679.60,442.97 L678.60,442.35 L677.60,441.74 L676.60,441.13 L675.60,440.54 L674.60,439.95 L673.60,439.36 L672.60,438.78 L671.60,438.20 L670.60,437.62 L669.60,437.06 L668.60,436.50 L667.60,435.97 L666.60,435.47 L665.60,435.00 L664.60,434.55 L663.60,434.14 L662.60,433.75 L661.60,433.38 L660.60,433.02 L659.60,432.68 L658.60,432.34 L657.60,432.00 L656.60,431.69 L655.60,431.39 L654.60,431.11 L653.60,430.87 L652.60,430.65 L651.60,430.47 L650.60,430.32 L649.60,430.19 L648.60,430.08 L647.60,429.98 L646.60,429.89 L645.60,429.81 L644.60,429.76 L643.60,429.73 L642.60,429.73 L641.60,429.77 L640.60,429.86 L639.60,429.98 L638.60,430.13 L637.60,430.31 L636.60,430.50 L635.60,430.70 L634.60,430.90 L633.60,431.09 L632.60,431.26 L631.60,431.40 L630.60,431.52 L629.60,431.60 L628.60,431.64 L627.60,431.66 L626.60,431.64 L625.60,431.61 L624.60,431.57 L623.60,431.52 L622.60,431.48 L621.60,431.44 L620.60,431.41 L619.60,431.38 L618.60,431.37 L617.60,431.36 L616.60,431.36 L615.60,431.37 L614.60,431.38 L613.60,431.39 L612.60,431.40 L611.60,431.41 L610.60,431.42 L609.60,431.42 L608.60,431.42 L607.60,431.41 L606.60,431.40 L605.60,431.38 L604.60,431.35 L603.60,431.32 L602.60,431.29 L601.60,431.26 L600.60,431.22 L599.60,431.17 L598.60,431.12 L597.60,431.05 L596.60,430.96 L595.60,430.84 L594.60,430.70 L593.60,430.52 L592.60,430.32 L591.60,430.09 L590.60,429.85 L589.60,429.60 L588.60,429.35 L587.60,429.09 L586.60,428.83 L585.60,428.56 L584.60,428.30 L583.60,428.03 L582.60,427.77 L581.60,427.49 L580.60,427.22 L579.60,426.94 L578.60,426.65 L577.60,426.36 L576.60,426.06 L575.60,425.77 L574.60,425.46 L573.60,425.16 L572.60,424.86 L571.60,424.55 L570.60,424.24 L569.60,423.92 L568.60,423.58 L567.60,423.22 L566.60,422.83 L565.60,422.41 L564.60,421.93 L563.60,421.41 L562.60,420.84 L561.60,420.24 L560.60,419.61 L559.60,418.95 L558.60,418.26 L557.60,417.55 L556.60,416.80 L555.60,416.02 L554.60,415.21 L553.60,414.37 L552.60,413.50 L551.60,412.62 L550.60,411.72 L549.60,410.82 L548.60,409.92 L547.60,409.01 L546.60,408.11 L545.60,407.20 L544.60,406.30 L543.60,405.39 L542.60,404.49 L541.60,403.59 L540.60,402.69 L539.60,401.79 L538.60,400.89 L537.60,399.98 L536.60,399.07 L535.60,398.14 L534.60,397.21 L533.60,396.26 L532.60,395.30 L531.60,394.32 L530.60,393.34 L529.60,392.35 L528.60,391.37 L527.60,390.38 L526.60,389.40 L525.60,388.42 L524.60,387.45 L523.60,386.48 L522.60,385.52 L521.60,384.56 L520.60,383.60 L519.60,382.64 L518.60,381.69 L517.60,380.74 L516.60,379.79 L515.60,378.84 L514.60,377.90 L513.60,376.97 L512.60,376.03 L511.60,375.10 L510.60,374.18 L509.60,373.25 L508.60,372.31 L507.60,371.35 L506.60,370.37 L505.60,369.36 L504.60,368.31 L503.60,367.22 L502.60,366.09 L501.60,364.94 L500.60,363.77 L499.60,362.58 L498.60,361.39 L497.60,360.18 L496.60,358.98 L495.60,357.77 L494.60,356.55 L493.60,355.32 L492.60,354.07 L491.60,352.81 L490.60,351.53 L489.60,350.23 L488.60,348.91 L487.60,347.58 L486.60,346.25 L485.60,344.91 L484.60,343.56 L483.60,342.23 L482.60,340.89 L481.60,339.57 L480.60,338.25 L479.60,336.95 L478.60,335.67 L477.60,334.40 L476.60,333.15 L475.60,331.91 L474.60,330.67 L473.60,329.44 L472.60,328.21 L471.60,326.98 L470.60,325.75 L469.60,324.52 L468.60,323.28 L467.60,322.03 L466.60,320.78 L465.60,319.53 L464.60,318.27 L463.60,317.00 L462.60,315.73 L461.60,314.46 L460.60,313.19 L459.60,311.93 L458.60,310.67 L457.60,309.42 L456.60,308.19 L455.60,306.97 L454.60,305.78 L453.60,304.61 L452.60,303.46 L451.60,302.33 L450.60,301.22 L449.60,300.14 L448.60,299.08 L447.60,298.06 L446.60,297.07 L445.60,296.12 L444.60,295.20 L443.60,294.31 L442.60,293.44 L441.60,292.59 L440.60,291.74 L439.60,290.89 L438.60,290.05 L437.60,289.20 L436.60,288.35 L435.60,287.51 L434.60,286.68 L433.60,285.86 L432.60,285.07 L431.60,284.32 L430.60,283.62 L429.60,282.98 L428.60,282.40 L427.60,281.88 L426.60,281.39 L425.60,280.95 L424.60,280.53 L423.60,280.13 L422.60,279.75 L421.60,279.39 L420.60,279.04 L419.60,278.71 L418.60,278.39 L417.60,278.09 L416.60,277.80 L415.60,277.52 L414.60,277.26 L413.60,277.03 L412.60,276.81 L411.60,276.61 L410.60,276.43 L409.60,276.27 L408.60,276.12 L407.60,275.99 L406.60,275.88 L405.60,275.78 L404.60,275.71 L403.60,275.65 L402.60,275.62 L401.60,275.60 L400.60,275.61 L399.60,275.64 L398.60,275.70 L397.60,275.79 L396.60,275.92 L395.60,276.09 L394.60,276.30 L393.60,276.54 L392.60,276.80 L391.60,277.09 L390.60,277.38 L389.60,277.69 L388.60,278.00 L387.60,278.33 L386.60,278.66 L385.60,278.99 L384.60,279.32 L383.60,279.65 L382.60,279.98 L381.60,280.29 L380.60,280.58 L379.60,280.86 L378.60,281.12 L377.60,281.36 L376.60,281.59 L375.60,281.81 L374.60,282.02 L373.60,282.22 L372.60,282.43 L371.60,282.63 L370.60,282.84 L369.60,283.04 L368.60,283.25 L367.60,283.46 L366.60,283.67 L365.60,283.88 L364.60,284.10 L363.60,284.32 L362.60,284.55 L361.60,284.77 L360.60,284.99 L359.60,285.21 L358.60,285.42 L357.60,285.61 L356.60,285.77 L355.60,285.90 L354.60,286.00 L353.60,286.06 L352.60,286.09 L351.60,286.09 L350.60,286.07 L349.60,286.03 L348.60,285.97 L347.60,285.89 L346.60,285.78 L345.60,285.63 L344.60,285.44 L343.60,285.22 L342.60,284.96 L341.60,284.67 L340.60,284.36 L339.60,284.04 L338.60,283.71 L337.60,283.37 L336.60,283.02 L335.60,282.67 L334.60,282.30 L333.60,281.92 L332.60,281.51 L331.60,281.08 L330.60,280.64 L329.60,280.17 L328.60,279.70 L327.60,279.21 L326.60,278.72 L325.60,278.22 L324.60,277.72 L323.60,277.21 L322.60,276.69 L321.60,276.16 L320.60,275.61 L319.60,275.05 L318.60,274.47 L317.60,273.87 L316.60,273.26 L315.60,272.64 L314.60,272.02 L313.60,271.39 L312.60,270.76 L311.60,270.12 L310.60,269.50 L309.60,268.87 L308.60,268.25 L307.60,267.63 L306.60,267.01 L305.60,266.40 L304.60,265.80 L303.60,265.20 L302.60,264.59 L301.60,263.99 L300.60,263.40 L299.60,262.80 L298.60,262.20 L297.60,261.60 L296.60,261.00 L295.60,260.40 L294.60,259.80 L293.60,259.20 L292.60,258.59 L291.60,257.98 L290.60,257.35 L289.60,256.71 L288.60,256.05 L287.60,255.37 L286.60,254.67 L285.60,253.96 L284.60,253.23 L283.60,252.49 L282.60,251.74 L281.60,251.00 L280.60,250.25 L279.60,249.50 L278.60,248.75 L277.60,248.00 L276.60,247.26 L275.60,246.52 L274.60,245.79 L273.60,245.06 L272.60,244.34 L271.60,243.63 L270.60,242.92 L269.60,242.22 L268.60,241.52 L267.60,240.82 L266.60,240.13 L265.60,239.43 L264.60,238.74 L263.60,238.05 L262.60,237.37 L261.60,236.69 L260.60,236.03 L259.60,235.38 L258.60,234.74 L257.60,234.13 L256.60,233.52 L255.60,232.93 L254.60,232.35 L253.60,231.77 L252.60,231.20 L251.60,230.62 L250.60,230.05 L249.60,229.48 L248.60,228.92 L247.60,228.36 L246.60,227.81 L245.60,227.27 L244.60,226.75 L243.60,226.24 L242.60,225.75 L241.60,225.27 L240.60,224.80 L239.60,224.34 L238.60,223.88 L237.60,223.42 L236.60,222.97 L235.60,222.51 L234.60,222.06 L233.60,221.60 L232.60,221.15 L231.60,220.70 L230.60,220.26 L229.60,219.82 L228.60,219.40 L227.60,218.99 L226.60,218.60 L225.60,218.22 L224.60,217.86 L223.60,217.52 L222.60,217.18 L221.60,216.86 L220.60,216.53 L219.60,216.21 L218.60,215.89 L217.60,215.56 L216.60,215.24 L215.60,214.92 L214.60,214.60 L213.60,214.28 L212.60,213.96 L211.60,213.65 L210.60,213.33 L209.60,213.03 L208.60,212.74 L207.60,212.46 L206.60,212.20 L205.60,211.98 L204.60,211.78 L203.60,211.60 L202.60,211.43 L201.60,211.27 L200.60,211.11 L199.60,210.96 L198.60,210.81 L197.60,210.66 L196.60,210.51 L195.60,210.36 L194.60,210.21 L193.60,210.06 L192.60,209.91 L191.60,209.76 L190.60,209.61 L189.60,209.47 L188.60,209.34 L187.60,209.22 L186.60,209.10 L185.60,209.01 L184.60,208.92 L183.60,208.85 L182.60,208.78 L181.60,208.73 L180.60,208.67 L179.60,208.62 L178.60,208.57 L177.60,208.53 L176.60,208.48 L175.60,208.45 L174.60,208.52 L173.60,208.58 L172.60,208.64 L171.60,208.71 L170.60,208.78 L169.60,208.85 L168.60,208.93 L167.60,209.02 L166.60,209.12 L165.60,209.24 L164.60,209.38 L163.60,209.53 L162.60,209.69 L161.60,209.86 L160.60,210.04 L159.60,210.23 L158.60,210.41 L157.60,210.60 L156.60,210.78 L155.60,210.97 L154.60,211.16 L153.60,211.45 L152.60,211.73 L151.60,212.01 L150.60,212.30 L149.60,212.59 L148.60,212.88 L147.60,213.19 L146.60,213.50 L145.60,213.82 L144.60,214.16 L143.60,214.50 L142.60,214.86 L141.60,215.23 L140.60,215.60 L139.60,216.16 L138.60,216.73 L137.60,217.30 L136.60,217.87 L135.60,218.43 L134.60,218.98 L133.60,219.53 L132.60,220.05 L131.60,220.56Z" fill="#CCCCCC" fill-opacity="0.42" stroke="none"/>
<path d="M131.60,198.73 L132.60,198.65 L133.60,198.55 L134.60,198.43 L135.60,198.30 L136.60,198.17 L137.60,198.03 L138.60,197.89 L139.60,197.74 L140.60,197.60 L141.60,197.46 L142.60,197.33 L143.60,197.21 L144.60,197.10 L145.60,197.00 L146.60,196.91 L147.60,196.83 L148.60,196.76 L149.60,196.70 L150.60,196.65 L151.60,196.60 L152.60,196.55 L153.60,196.50 L154.60,196.45 L155.60,196.40 L156.60,196.35 L157.60,196.30 L158.60,196.25 L159.60,196.20 L160.60,196.16 L161.60,196.12 L162.60,196.08 L163.60,196.06 L164.60,196.04 L165.60,196.04 L166.60,196.06 L167.60,196.10 L168.60,196.15 L169.60,196.20 L170.60,196.27 L171.60,196.34 L172.60,196.41 L173.60,196.48 L174.60,196.55 L175.60,196.63 L176.60,196.70 L177.60,196.78 L178.60,196.85 L179.60,196.92 L180.60,197.00 L181.60,197.08 L182.60,197.16 L183.60,197.25 L184.60,197.35 L185.60,197.46 L186.60,197.59 L187.60,197.73 L188.60,197.88 L189.60,198.04 L190.60,198.20 L191.60,198.37 L192.60,198.55 L193.60,198.72 L194.60,198.90 L195.60,199.08 L196.60,199.25 L197.60,199.43 L198.60,199.61 L199.60,199.78 L200.60,199.96 L201.60,200.14 L202.60,200.33 L203.60,200.53 L204.60,200.73 L205.60,200.96 L206.60,201.20 L207.60,201.46 L208.60,201.74 L209.60,202.04 L210.60,202.34 L211.60,202.66 L212.60,202.98 L213.60,203.30 L214.60,203.62 L215.60,203.94 L216.60,204.27 L217.60,204.59 L218.60,204.91 L219.60,205.24 L220.60,205.56 L221.60,205.89 L222.60,206.22 L223.60,206.56 L224.60,206.91 L225.60,207.27 L226.60,207.64 L227.60,208.04 L228.60,208.45 L229.60,208.88 L230.60,209.31 L231.60,209.76 L232.60,210.21 L233.60,210.67 L234.60,211.12 L235.60,211.58 L236.60,212.04 L237.60,212.50 L238.60,212.96 L239.60,213.42 L240.60,213.88 L241.60,214.36 L242.60,214.84 L243.60,215.33 L244.60,215.84 L245.60,216.36 L246.60,216.90 L247.60,217.45 L248.60,218.02 L249.60,218.58 L250.60,219.15 L251.60,219.73 L252.60,220.30 L253.60,220.88 L254.60,221.46 L255.60,222.05 L256.60,222.64 L257.60,223.25 L258.60,223.87 L259.60,224.50 L260.60,225.16 L261.60,225.82 L262.60,226.50 L263.60,227.19 L264.60,227.88 L265.60,228.57 L266.60,229.27 L267.60,229.97 L268.60,230.67 L269.60,231.37 L270.60,232.08 L271.60,232.79 L272.60,233.50 L273.60,234.22 L274.60,234.95 L275.60,235.68 L276.60,236.43 L277.60,237.17 L278.60,237.92 L279.60,238.67 L280.60,239.42 L281.60,240.18 L282.60,240.93 L283.60,241.67 L284.60,242.41 L285.60,243.15 L286.60,243.86 L287.60,244.57 L288.60,245.25 L289.60,245.91 L290.60,246.55 L291.60,247.18 L292.60,247.79 L293.60,248.40 L294.60,249.00 L295.60,249.60 L296.60,250.19 L297.60,250.79 L298.60,251.39 L299.60,251.98 L300.60,252.58 L301.60,253.18 L302.60,253.78 L303.60,254.38 L304.60,254.98 L305.60,255.58 L306.60,256.19 L307.60,256.80 L308.60,257.42 L309.60,258.04 L310.60,258.67 L311.60,259.29 L312.60,259.92 L313.60,260.55 L314.60,261.18 L315.60,261.81 L316.60,262.42 L317.60,263.03 L318.60,263.63 L319.60,264.21 L320.60,264.77 L321.60,265.32 L322.60,265.85 L323.60,266.36 L324.60,266.87 L325.60,267.37 L326.60,267.87 L327.60,268.36 L328.60,268.84 L329.60,269.32 L330.60,269.78 L331.60,270.23 L332.60,270.65 L333.60,271.05 L334.60,271.44 L335.60,271.80 L336.60,272.16 L337.60,272.50 L338.60,272.84 L339.60,273.17 L340.60,273.49 L341.60,273.80 L342.60,274.09 L343.60,274.34 L344.60,274.57 L345.60,274.75 L346.60,274.90 L347.60,275.01 L348.60,275.09 L349.60,275.15 L350.60,275.19 L351.60,275.21 L352.60,275.20 L353.60,275.17 L354.60,275.11 L355.60,275.01 L356.60,274.88 L357.60,274.71 L358.60,274.52 L359.60,274.31 L360.60,274.10 L361.60,273.87 L362.60,273.65 L363.60,273.42 L364.60,273.20 L365.60,272.98 L366.60,272.76 L367.60,272.55 L368.60,272.34 L369.60,272.13 L370.60,271.92 L371.60,271.72 L372.60,271.51 L373.60,271.30 L374.60,271.10 L375.60,270.88 L376.60,270.67 L377.60,270.44 L378.60,270.19 L379.60,269.94 L380.60,269.66 L381.60,269.36 L382.60,269.05 L383.60,268.72 L384.60,268.39 L385.60,268.05 L386.60,267.72 L387.60,267.39 L388.60,267.07 L389.60,266.75 L390.60,266.44 L391.60,266.14 L392.60,265.86 L393.60,265.59 L394.60,265.35 L395.60,265.14 L396.60,264.97 L397.60,264.84 L398.60,264.74 L399.60,264.68 L400.60,264.65 L401.60,264.65 L402.60,264.66 L403.60,264.69 L404.60,264.75 L405.60,264.82 L406.60,264.92 L407.60,265.03 L408.60,265.16 L409.60,265.30 L410.60,265.46 L411.60,265.64 L412.60,265.83 L413.60,266.05 L414.60,266.29 L415.60,266.55 L416.60,266.82 L417.60,267.11 L418.60,267.41 L419.60,267.73 L420.60,268.05 L421.60,268.40 L422.60,268.76 L423.60,269.14 L424.60,269.54 L425.60,269.95 L426.60,270.40 L427.60,270.88 L428.60,271.41 L429.60,271.99 L430.60,272.62 L431.60,273.32 L432.60,274.07 L433.60,274.85 L434.60,275.67 L435.60,276.50 L436.60,277.34 L437.60,278.18 L438.60,279.03 L439.60,279.87 L440.60,280.71 L441.60,281.56 L442.60,282.41 L443.60,283.28 L444.60,284.17 L445.60,285.08 L446.60,286.03 L447.60,287.02 L448.60,288.04 L449.60,289.09 L450.60,290.17 L451.60,291.28 L452.60,292.41 L453.60,293.55 L454.60,294.72 L455.60,295.91 L456.60,297.12 L457.60,298.36 L458.60,299.60 L459.60,300.86 L460.60,302.12 L461.60,303.39 L462.60,304.65 L463.60,305.92 L464.60,307.18 L465.60,308.44 L466.60,309.69 L467.60,310.94 L468.60,312.18 L469.60,313.42 L470.60,314.65 L471.60,315.88 L472.60,317.10 L473.60,318.33 L474.60,319.56 L475.60,320.79 L476.60,322.03 L477.60,323.29 L478.60,324.55 L479.60,325.83 L480.60,327.13 L481.60,328.44 L482.60,329.76 L483.60,331.09 L484.60,332.43 L485.60,333.77 L486.60,335.10 L487.60,336.44 L488.60,337.76 L489.60,339.08 L490.60,340.38 L491.60,341.66 L492.60,342.92 L493.60,344.16 L494.60,345.39 L495.60,346.60 L496.60,347.81 L497.60,349.02 L498.60,350.21 L499.60,351.41 L500.60,352.59 L501.60,353.76 L502.60,354.91 L503.60,356.03 L504.60,357.12 L505.60,358.17 L506.60,359.18 L507.60,360.16 L508.60,361.11 L509.60,362.05 L510.60,362.97 L511.60,363.90 L512.60,364.83 L513.60,365.76 L514.60,366.69 L515.60,367.63 L516.60,368.57 L517.60,369.52 L518.60,370.47 L519.60,371.42 L520.60,372.37 L521.60,373.33 L522.60,374.28 L523.60,375.25 L524.60,376.21 L525.60,377.18 L526.60,378.16 L527.60,379.13 L528.60,380.12 L529.60,381.10 L530.60,382.09 L531.60,383.07 L532.60,384.04 L533.60,385.00 L534.60,385.95 L535.60,386.88 L536.60,387.80 L537.60,388.71 L538.60,389.61 L539.60,390.51 L540.60,391.41 L541.60,392.31 L542.60,393.20 L543.60,394.10 L544.60,395.01 L545.60,395.91 L546.60,396.81 L547.60,397.71 L548.60,398.62 L549.60,399.52 L550.60,400.42 L551.60,401.31 L552.60,402.19 L553.60,403.05 L554.60,403.89 L555.60,404.70 L556.60,405.48 L557.60,406.22 L558.60,406.94 L559.60,407.62 L560.60,408.28 L561.60,408.91 L562.60,409.51 L563.60,410.07 L564.60,410.59 L565.60,411.06 L566.60,411.48 L567.60,411.87 L568.60,412.23 L569.60,412.56 L570.60,412.88 L571.60,413.18 L572.60,413.49 L573.60,413.79 L574.60,414.09 L575.60,414.39 L576.60,414.69 L577.60,414.98 L578.60,415.27 L579.60,415.55 L580.60,415.83 L581.60,416.10 L582.60,416.37 L583.60,416.63 L584.60,416.90 L585.60,417.16 L586.60,417.42 L587.60,417.68 L588.60,417.93 L589.60,418.19 L590.60,418.44 L591.60,418.67 L592.60,418.89 L593.60,419.09 L594.60,419.27 L595.60,419.41 L596.60,419.52 L597.60,419.61 L598.60,419.68 L599.60,419.73 L600.60,419.77 L601.60,419.81 L602.60,419.84 L603.60,419.87 L604.60,419.89 L605.60,419.92 L606.60,419.93 L607.60,419.94 L608.60,419.95 L609.60,419.95 L610.60,419.94 L611.60,419.93 L612.60,419.92 L613.60,419.90 L614.60,419.89 L615.60,419.88 L616.60,419.87 L617.60,419.87 L618.60,419.87 L619.60,419.88 L620.60,419.91 L621.60,419.94 L622.60,419.98 L623.60,420.02 L624.60,420.07 L625.60,420.11 L626.60,420.14 L627.60,420.16 L628.60,420.14 L629.60,420.10 L630.60,420.02 L631.60,419.90 L632.60,419.76 L633.60,419.59 L634.60,419.40 L635.60,419.20 L636.60,419.00 L637.60,418.81 L638.60,418.63 L639.60,418.48 L640.60,418.36 L641.60,418.27 L642.60,418.23 L643.60,418.23 L644.60,418.26 L645.60,418.31 L646.60,418.39 L647.60,418.48 L648.60,418.58 L649.60,418.69 L650.60,418.82 L651.60,418.97 L652.60,419.15 L653.60,419.37 L654.60,419.61 L655.60,419.89 L656.60,420.19 L657.60,420.50 L658.60,420.84 L659.60,421.18 L660.60,421.52 L661.60,421.88 L662.60,422.25 L663.60,422.64 L664.60,423.05 L665.60,423.50 L666.60,423.97 L667.60,424.47 L668.60,425.00 L669.60,425.56 L670.60,426.12 L671.60,426.70 L672.60,427.28 L673.60,427.86 L674.60,428.45 L675.60,429.04 L676.60,429.63 L677.60,430.24 L678.60,430.85 L679.60,431.47 L680.60,432.11 L681.60,432.77 L682.60,433.43 L683.60,434.11 L684.60,434.79 L685.60,435.48 L686.60,436.19 L687.60,436.90 L688.60,437.64 L689.60,438.40 L690.60,439.19 L691.60,440.02 L692.60,440.88 L693.60,441.77 L694.60,442.68 L695.60,443.61 L696.60,444.55 L697.60,445.50 L698.60,446.45 L699.60,447.41 L700.60,448.36 L701.60,449.31 L702.60,450.27 L703.60,451.22 L704.60,452.18 L705.60,453.13 L706.60,454.09 L707.60,455.04 L708.60,456.00 L709.60,456.96 L710.60,457.92 L711.60,458.89 L712.60,459.86 L713.60,460.84 L714.60,461.82 L715.60,462.81 L716.60,463.81 L717.60,464.80 L718.60,465.80 L719.60,466.79 L720.60,467.78 L721.60,468.76 L722.60,469.73 L723.60,470.69 L724.60,471.63 L725.60,472.57 L726.60,473.49 L727.60,474.40 L728.60,475.31 L729.60,476.21 L730.60,477.11 L731.60,478.00 L732.60,478.89 L733.60,479.77 L734.60,480.65 L735.60,481.52 L736.60,482.38 L737.60,483.24 L738.60,484.09 L739.60,484.94 L740.60,485.79 L741.60,486.64 L742.60,487.49 L743.60,488.35 L744.60,489.22 L745.60,490.09 L746.60,490.97 L747.60,491.86 L748.60,492.75 L749.60,493.65 L750.60,494.55 L751.60,495.45 L752.60,496.35 L753.60,497.25 L754.60,498.14 L755.60,499.01 L756.60,499.88 L757.60,500.72 L758.60,501.56 L759.60,502.38 L760.60,503.20 L761.60,504.01 L762.60,504.82 L763.60,505.62 L764.60,506.43 L765.60,507.24 L766.60,508.06 L767.60,508.89 L768.60,509.72 L769.60,510.57 L770.60,511.44 L771.60,512.31 L772.60,513.19 L773.60,514.08 L774.60,514.97 L775.60,515.85 L776.60,516.72 L777.60,517.57 L778.60,518.40 L779.60,519.22 L780.60,520.02 L781.60,520.80 L782.60,521.56 L783.60,522.31 L784.60,523.05 L785.60,523.76 L786.60,524.46 L787.60,525.13 L788.60,525.78 L789.60,526.40 L790.60,527.00 L791.60,527.58 L792.60,528.14 L793.60,528.70 L794.60,529.25 L795.60,529.79 L796.60,530.32 L797.60,530.84 L798.60,531.36 L799.60,531.87 L800.60,532.37 L801.60,532.86 L802.60,533.35 L803.60,533.83 L804.60,534.31 L805.60,534.77 L806.60,535.22 L807.60,535.65 L808.60,536.08 L809.60,536.49 L810.60,536.90 L811.60,537.30 L812.60,537.69 L813.60,538.08 L814.60,538.46 L815.60,538.84 L816.60,539.21 L817.60,539.57 L818.60,539.93 L819.60,540.28 L820.60,540.63 L821.60,540.96 L822.60,541.29 L823.60,541.61 L824.60,541.92 L825.60,542.21 L826.60,542.49 L827.60,542.76 L828.60,543.02 L829.60,543.28 L830.60,543.52 L831.60,543.77 L832.60,544.00 L833.60,544.24 L834.60,544.46 L835.60,544.69 L836.60,544.90 L837.60,545.11 L838.60,545.32 L839.60,545.53 L840.60,545.72 L841.60,545.92 L842.60,546.11 L843.60,546.29 L844.60,546.46 L845.60,546.62 L846.60,546.78 L847.60,546.94 L848.60,547.08 L849.60,547.22 L850.60,547.35 L851.60,547.47 L852.60,547.58 L853.60,547.67 L854.60,547.75 L855.60,547.82 L856.60,547.88 L857.60,547.94 L858.60,547.99 L859.60,548.04 L860.60,548.09 L861.60,548.14 L862.60,548.18 L863.60,548.23 L864.60,548.28 L865.60,548.33 L866.60,548.38 L867.60,548.43 L868.60,548.48 L869.60,548.52 L870.60,548.57 L871.60,548.62 L872.60,548.67 L873.60,548.72 L874.60,548.77 L875.60,548.81 L876.60,548.86 L877.60,548.91 L878.60,548.96 L879.60,549.01 L880.60,549.06 L881.60,549.11 L882.60,549.16 L883.60,549.21 L884.60,549.26 L885.60,549.31 L886.60,549.36 L887.60,549.41 L888.60,549.46 L889.60,549.51 L890.60,549.56 L891.60,549.61 L892.60,549.66 L893.60,549.71 L894.60,549.77 L895.60,549.82 L896.60,549.87 L897.60,549.92 L898.60,549.97 L899.60,550.02 L900.60,550.07 L901.60,550.12 L902.60,550.17 L903.60,550.22 L904.60,550.27 L905.60,550.32 L906.60,550.37 L907.60,550.43 L908.60,550.48 L909.60,550.53 L910.60,550.58 L911.60,550.63 L912.60,550.68 L913.60,550.73 L914.60,550.78 L915.60,550.83 L916.60,550.88 L917.60,550.93 L918.60,550.98 L919.60,551.04 L920.60,551.09 L921.60,551.14 L922.60,551.19 L923.60,551.24 L924.60,551.29 L925.60,551.34 L926.60,551.39 L927.60,551.44 L928.60,551.49 L929.60,551.54 L930.60,551.59 L931.60,551.64 L932.60,551.70 L933.60,551.75 L934.60,551.80 L935.60,551.85 L936.60,551.90 L937.60,551.95 L938.60,552.00 L939.60,552.05 L940.60,552.10 L941.60,552.14 L942.60,552.18 L943.60,552.22 L944.60,552.25 L945.60,552.28 L946.60,552.30 L947.60,552.32 L948.60,552.33 L949.60,552.35 L950.60,552.36 L951.60,552.37 L952.60,552.38 L953.60,552.39 L954.60,552.40 L955.60,552.41 L956.60,552.42 L957.60,552.42 L958.60,552.43 L959.60,552.44 L960.60,552.45 L961.60,552.46 L962.60,552.47 L963.60,552.48 L964.60,552.49 L965.60,552.50 L966.60,552.51 L967.60,552.52 L968.60,552.53 L969.60,552.54 L970.60,552.55 L971.60,552.56 L972.60,552.56 L973.60,552.57 L974.60,552.58 L975.60,552.58 L976.60,552.58 L977.60,552.58 L978.60,552.58 L979.60,552.58 L980.60,552.57 L981.60,552.56 L982.60,552.56 L983.60,552.55 L984.60,552.55 L985.60,552.54 L986.60,552.53 L987.60,552.53 L988.60,552.52 L989.60,552.52 L990.60,552.51 L991.60,552.50 L992.60,552.50 L993.60,552.49 L994.60,552.49 L995.60,552.48 L996.60,552.47 L997.60,552.47 L998.60,552.46 L999.60,552.45 L1000.60,552.45 L1001.60,552.44 L1002.60,552.44 L1003.60,552.43 L1004.60,552.42 L1005.60,552.42 L1006.60,552.41 L1007.60,552.41 L1008.40,552.41" fill="none" stroke="#fff" stroke-width="5.0" stroke-linejoin="round"/>
<path d="M131.60,198.73 L132.60,198.65 L133.60,198.55 L134.60,198.43 L135.60,198.30 L136.60,198.17 L137.60,198.03 L138.60,197.89 L139.60,197.74 L140.60,197.60 L141.60,197.46 L142.60,197.33 L143.60,197.21 L144.60,197.10 L145.60,197.00 L146.60,196.91 L147.60,196.83 L148.60,196.76 L149.60,196.70 L150.60,196.65 L151.60,196.60 L152.60,196.55 L153.60,196.50 L154.60,196.45 L155.60,196.40 L156.60,196.35 L157.60,196.30 L158.60,196.25 L159.60,196.20 L160.60,196.16 L161.60,196.12 L162.60,196.08 L163.60,196.06 L164.60,196.04 L165.60,196.04 L166.60,196.06 L167.60,196.10 L168.60,196.15 L169.60,196.20 L170.60,196.27 L171.60,196.34 L172.60,196.41 L173.60,196.48 L174.60,196.55 L175.60,196.63 L176.60,196.70 L177.60,196.78 L178.60,196.85 L179.60,196.92 L180.60,197.00 L181.60,197.08 L182.60,197.16 L183.60,197.25 L184.60,197.35 L185.60,197.46 L186.60,197.59 L187.60,197.73 L188.60,197.88 L189.60,198.04 L190.60,198.20 L191.60,198.37 L192.60,198.55 L193.60,198.72 L194.60,198.90 L195.60,199.08 L196.60,199.25 L197.60,199.43 L198.60,199.61 L199.60,199.78 L200.60,199.96 L201.60,200.14 L202.60,200.33 L203.60,200.53 L204.60,200.73 L205.60,200.96 L206.60,201.20 L207.60,201.46 L208.60,201.74 L209.60,202.04 L210.60,202.34 L211.60,202.66 L212.60,202.98 L213.60,203.30 L214.60,203.62 L215.60,203.94 L216.60,204.27 L217.60,204.59 L218.60,204.91 L219.60,205.24 L220.60,205.56 L221.60,205.89 L222.60,206.22 L223.60,206.56 L224.60,206.91 L225.60,207.27 L226.60,207.64 L227.60,208.04 L228.60,208.45 L229.60,208.88 L230.60,209.31 L231.60,209.76 L232.60,210.21 L233.60,210.67 L234.60,211.12 L235.60,211.58 L236.60,212.04 L237.60,212.50 L238.60,212.96 L239.60,213.42 L240.60,213.88 L241.60,214.36 L242.60,214.84 L243.60,215.33 L244.60,215.84 L245.60,216.36 L246.60,216.90 L247.60,217.45 L248.60,218.02 L249.60,218.58 L250.60,219.15 L251.60,219.73 L252.60,220.30 L253.60,220.88 L254.60,221.46 L255.60,222.05 L256.60,222.64 L257.60,223.25 L258.60,223.87 L259.60,224.50 L260.60,225.16 L261.60,225.82 L262.60,226.50 L263.60,227.19 L264.60,227.88 L265.60,228.57 L266.60,229.27 L267.60,229.97 L268.60,230.67 L269.60,231.37 L270.60,232.08 L271.60,232.79 L272.60,233.50 L273.60,234.22 L274.60,234.95 L275.60,235.68 L276.60,236.43 L277.60,237.17 L278.60,237.92 L279.60,238.67 L280.60,239.42 L281.60,240.18 L282.60,240.93 L283.60,241.67 L284.60,242.41 L285.60,243.15 L286.60,243.86 L287.60,244.57 L288.60,245.25 L289.60,245.91 L290.60,246.55 L291.60,247.18 L292.60,247.79 L293.60,248.40 L294.60,249.00 L295.60,249.60 L296.60,250.19 L297.60,250.79 L298.60,251.39 L299.60,251.98 L300.60,252.58 L301.60,253.18 L302.60,253.78 L303.60,254.38 L304.60,254.98 L305.60,255.58 L306.60,256.19 L307.60,256.80 L308.60,257.42 L309.60,258.04 L310.60,258.67 L311.60,259.29 L312.60,259.92 L313.60,260.55 L314.60,261.18 L315.60,261.81 L316.60,262.42 L317.60,263.03 L318.60,263.63 L319.60,264.21 L320.60,264.77 L321.60,265.32 L322.60,265.85 L323.60,266.36 L324.60,266.87 L325.60,267.37 L326.60,267.87 L327.60,268.36 L328.60,268.84 L329.60,269.32 L330.60,269.78 L331.60,270.23 L332.60,270.65 L333.60,271.05 L334.60,271.44 L335.60,271.80 L336.60,272.16 L337.60,272.50 L338.60,272.84 L339.60,273.17 L340.60,273.49 L341.60,273.80 L342.60,274.09 L343.60,274.34 L344.60,274.57 L345.60,274.75 L346.60,274.90 L347.60,275.01 L348.60,275.09 L349.60,275.15 L350.60,275.19 L351.60,275.21 L352.60,275.20 L353.60,275.17 L354.60,275.11 L355.60,275.01 L356.60,274.88 L357.60,274.71 L358.60,274.52 L359.60,274.31 L360.60,274.10 L361.60,273.87 L362.60,273.65 L363.60,273.42 L364.60,273.20 L365.60,272.98 L366.60,272.76 L367.60,272.55 L368.60,272.34 L369.60,272.13 L370.60,271.92 L371.60,271.72 L372.60,271.51 L373.60,271.30 L374.60,271.10 L375.60,270.88 L376.60,270.67 L377.60,270.44 L378.60,270.19 L379.60,269.94 L380.60,269.66 L381.60,269.36 L382.60,269.05 L383.60,268.72 L384.60,268.39 L385.60,268.05 L386.60,267.72 L387.60,267.39 L388.60,267.07 L389.60,266.75 L390.60,266.44 L391.60,266.14 L392.60,265.86 L393.60,265.59 L394.60,265.35 L395.60,265.14 L396.60,264.97 L397.60,264.84 L398.60,264.74 L399.60,264.68 L400.60,264.65 L401.60,264.65 L402.60,264.66 L403.60,264.69 L404.60,264.75 L405.60,264.82 L406.60,264.92 L407.60,265.03 L408.60,265.16 L409.60,265.30 L410.60,265.46 L411.60,265.64 L412.60,265.83 L413.60,266.05 L414.60,266.29 L415.60,266.55 L416.60,266.82 L417.60,267.11 L418.60,267.41 L419.60,267.73 L420.60,268.05 L421.60,268.40 L422.60,268.76 L423.60,269.14 L424.60,269.54 L425.60,269.95 L426.60,270.40 L427.60,270.88 L428.60,271.41 L429.60,271.99 L430.60,272.62 L431.60,273.32 L432.60,274.07 L433.60,274.85 L434.60,275.67 L435.60,276.50 L436.60,277.34 L437.60,278.18 L438.60,279.03 L439.60,279.87 L440.60,280.71 L441.60,281.56 L442.60,282.41 L443.60,283.28 L444.60,284.17 L445.60,285.08 L446.60,286.03 L447.60,287.02 L448.60,288.04 L449.60,289.09 L450.60,290.17 L451.60,291.28 L452.60,292.41 L453.60,293.55 L454.60,294.72 L455.60,295.91 L456.60,297.12 L457.60,298.36 L458.60,299.60 L459.60,300.86 L460.60,302.12 L461.60,303.39 L462.60,304.65 L463.60,305.92 L464.60,307.18 L465.60,308.44 L466.60,309.69 L467.60,310.94 L468.60,312.18 L469.60,313.42 L470.60,314.65 L471.60,315.88 L472.60,317.10 L473.60,318.33 L474.60,319.56 L475.60,320.79 L476.60,322.03 L477.60,323.29 L478.60,324.55 L479.60,325.83 L480.60,327.13 L481.60,328.44 L482.60,329.76 L483.60,331.09 L484.60,332.43 L485.60,333.77 L486.60,335.10 L487.60,336.44 L488.60,337.76 L489.60,339.08 L490.60,340.38 L491.60,341.66 L492.60,342.92 L493.60,344.16 L494.60,345.39 L495.60,346.60 L496.60,347.81 L497.60,349.02 L498.60,350.21 L499.60,351.41 L500.60,352.59 L501.60,353.76 L502.60,354.91 L503.60,356.03 L504.60,357.12 L505.60,358.17 L506.60,359.18 L507.60,360.16 L508.60,361.11 L509.60,362.05 L510.60,362.97 L511.60,363.90 L512.60,364.83 L513.60,365.76 L514.60,366.69 L515.60,367.63 L516.60,368.57 L517.60,369.52 L518.60,370.47 L519.60,371.42 L520.60,372.37 L521.60,373.33 L522.60,374.28 L523.60,375.25 L524.60,376.21 L525.60,377.18 L526.60,378.16 L527.60,379.13 L528.60,380.12 L529.60,381.10 L530.60,382.09 L531.60,383.07 L532.60,384.04 L533.60,385.00 L534.60,385.95 L535.60,386.88 L536.60,387.80 L537.60,388.71 L538.60,389.61 L539.60,390.51 L540.60,391.41 L541.60,392.31 L542.60,393.20 L543.60,394.10 L544.60,395.01 L545.60,395.91 L546.60,396.81 L547.60,397.71 L548.60,398.62 L549.60,399.52 L550.60,400.42 L551.60,401.31 L552.60,402.19 L553.60,403.05 L554.60,403.89 L555.60,404.70 L556.60,405.48 L557.60,406.22 L558.60,406.94 L559.60,407.62 L560.60,408.28 L561.60,408.91 L562.60,409.51 L563.60,410.07 L564.60,410.59 L565.60,411.06 L566.60,411.48 L567.60,411.87 L568.60,412.23 L569.60,412.56 L570.60,412.88 L571.60,413.18 L572.60,413.49 L573.60,413.79 L574.60,414.09 L575.60,414.39 L576.60,414.69 L577.60,414.98 L578.60,415.27 L579.60,415.55 L580.60,415.83 L581.60,416.10 L582.60,416.37 L583.60,416.63 L584.60,416.90 L585.60,417.16 L586.60,417.42 L587.60,417.68 L588.60,417.93 L589.60,418.19 L590.60,418.44 L591.60,418.67 L592.60,418.89 L593.60,419.09 L594.60,419.27 L595.60,419.41 L596.60,419.52 L597.60,419.61 L598.60,419.68 L599.60,419.73 L600.60,419.77 L601.60,419.81 L602.60,419.84 L603.60,419.87 L604.60,419.89 L605.60,419.92 L606.60,419.93 L607.60,419.94 L608.60,419.95 L609.60,419.95 L610.60,419.94 L611.60,419.93 L612.60,419.92 L613.60,419.90 L614.60,419.89 L615.60,419.88 L616.60,419.87 L617.60,419.87 L618.60,419.87 L619.60,419.88 L620.60,419.91 L621.60,419.94 L622.60,419.98 L623.60,420.02 L624.60,420.07 L625.60,420.11 L626.60,420.14 L627.60,420.16 L628.60,420.14 L629.60,420.10 L630.60,420.02 L631.60,419.90 L632.60,419.76 L633.60,419.59 L634.60,419.40 L635.60,419.20 L636.60,419.00 L637.60,418.81 L638.60,418.63 L639.60,418.48 L640.60,418.36 L641.60,418.27 L642.60,418.23 L643.60,418.23 L644.60,418.26 L645.60,418.31 L646.60,418.39 L647.60,418.48 L648.60,418.58 L649.60,418.69 L650.60,418.82 L651.60,418.97 L652.60,419.15 L653.60,419.37 L654.60,419.61 L655.60,419.89 L656.60,420.19 L657.60,420.50 L658.60,420.84 L659.60,421.18 L660.60,421.52 L661.60,421.88 L662.60,422.25 L663.60,422.64 L664.60,423.05 L665.60,423.50 L666.60,423.97 L667.60,424.47 L668.60,425.00 L669.60,425.56 L670.60,426.12 L671.60,426.70 L672.60,427.28 L673.60,427.86 L674.60,428.45 L675.60,429.04 L676.60,429.63 L677.60,430.24 L678.60,430.85 L679.60,431.47 L680.60,432.11 L681.60,432.77 L682.60,433.43 L683.60,434.11 L684.60,434.79 L685.60,435.48 L686.60,436.19 L687.60,436.90 L688.60,437.64 L689.60,438.40 L690.60,439.19 L691.60,440.02 L692.60,440.88 L693.60,441.77 L694.60,442.68 L695.60,443.61 L696.60,444.55 L697.60,445.50 L698.60,446.45 L699.60,447.41 L700.60,448.36 L701.60,449.31 L702.60,450.27 L703.60,451.22 L704.60,452.18 L705.60,453.13 L706.60,454.09 L707.60,455.04 L708.60,456.00 L709.60,456.96 L710.60,457.92 L711.60,458.89 L712.60,459.86 L713.60,460.84 L714.60,461.82 L715.60,462.81 L716.60,463.81 L717.60,464.80 L718.60,465.80 L719.60,466.79 L720.60,467.78 L721.60,468.76 L722.60,469.73 L723.60,470.69 L724.60,471.63 L725.60,472.57 L726.60,473.49 L727.60,474.40 L728.60,475.31 L729.60,476.21 L730.60,477.11 L731.60,478.00 L732.60,478.89 L733.60,479.77 L734.60,480.65 L735.60,481.52 L736.60,482.38 L737.60,483.24 L738.60,484.09 L739.60,484.94 L740.60,485.79 L741.60,486.64 L742.60,487.49 L743.60,488.35 L744.60,489.22 L745.60,490.09 L746.60,490.97 L747.60,491.86 L748.60,492.75 L749.60,493.65 L750.60,494.55 L751.60,495.45 L752.60,496.35 L753.60,497.25 L754.60,498.14 L755.60,499.01 L756.60,499.88 L757.60,500.72 L758.60,501.56 L759.60,502.38 L760.60,503.20 L761.60,504.01 L762.60,504.82 L763.60,505.62 L764.60,506.43 L765.60,507.24 L766.60,508.06 L767.60,508.89 L768.60,509.72 L769.60,510.57 L770.60,511.44 L771.60,512.31 L772.60,513.19 L773.60,514.08 L774.60,514.97 L775.60,515.85 L776.60,516.72 L777.60,517.57 L778.60,518.40 L779.60,519.22 L780.60,520.02 L781.60,520.80 L782.60,521.56 L783.60,522.31 L784.60,523.05 L785.60,523.76 L786.60,524.46 L787.60,525.13 L788.60,525.78 L789.60,526.40 L790.60,527.00 L791.60,527.58 L792.60,528.14 L793.60,528.70 L794.60,529.25 L795.60,529.79 L796.60,530.32 L797.60,530.84 L798.60,531.36 L799.60,531.87 L800.60,532.37 L801.60,532.86 L802.60,533.35 L803.60,533.83 L804.60,534.31 L805.60,534.77 L806.60,535.22 L807.60,535.65 L808.60,536.08 L809.60,536.49 L810.60,536.90 L811.60,537.30 L812.60,537.69 L813.60,538.08 L814.60,538.46 L815.60,538.84 L816.60,539.21 L817.60,539.57 L818.60,539.93 L819.60,540.28 L820.60,540.63 L821.60,540.96 L822.60,541.29 L823.60,541.61 L824.60,541.92 L825.60,542.21 L826.60,542.49 L827.60,542.76 L828.60,543.02 L829.60,543.28 L830.60,543.52 L831.60,543.77 L832.60,544.00 L833.60,544.24 L834.60,544.46 L835.60,544.69 L836.60,544.90 L837.60,545.11 L838.60,545.32 L839.60,545.53 L840.60,545.72 L841.60,545.92 L842.60,546.11 L843.60,546.29 L844.60,546.46 L845.60,546.62 L846.60,546.78 L847.60,546.94 L848.60,547.08 L849.60,547.22 L850.60,547.35 L851.60,547.47 L852.60,547.58 L853.60,547.67 L854.60,547.75 L855.60,547.82 L856.60,547.88 L857.60,547.94 L858.60,547.99 L859.60,548.04 L860.60,548.09 L861.60,548.14 L862.60,548.18 L863.60,548.23 L864.60,548.28 L865.60,548.33 L866.60,548.38 L867.60,548.43 L868.60,548.48 L869.60,548.52 L870.60,548.57 L871.60,548.62 L872.60,548.67 L873.60,548.72 L874.60,548.77 L875.60,548.81 L876.60,548.86 L877.60,548.91 L878.60,548.96 L879.60,549.01 L880.60,549.06 L881.60,549.11 L882.60,549.16 L883.60,549.21 L884.60,549.26 L885.60,549.31 L886.60,549.36 L887.60,549.41 L888.60,549.46 L889.60,549.51 L890.60,549.56 L891.60,549.61 L892.60,549.66 L893.60,549.71 L894.60,549.77 L895.60,549.82 L896.60,549.87 L897.60,549.92 L898.60,549.97 L899.60,550.02 L900.60,550.07 L901.60,550.12 L902.60,550.17 L903.60,550.22 L904.60,550.27 L905.60,550.32 L906.60,550.37 L907.60,550.43 L908.60,550.48 L909.60,550.53 L910.60,550.58 L911.60,550.63 L912.60,550.68 L913.60,550.73 L914.60,550.78 L915.60,550.83 L916.60,550.88 L917.60,550.93 L918.60,550.98 L919.60,551.04 L920.60,551.09 L921.60,551.14 L922.60,551.19 L923.60,551.24 L924.60,551.29 L925.60,551.34 L926.60,551.39 L927.60,551.44 L928.60,551.49 L929.60,551.54 L930.60,551.59 L931.60,551.64 L932.60,551.70 L933.60,551.75 L934.60,551.80 L935.60,551.85 L936.60,551.90 L937.60,551.95 L938.60,552.00 L939.60,552.05 L940.60,552.10 L941.60,552.14 L942.60,552.18 L943.60,552.22 L944.60,552.25 L945.60,552.28 L946.60,552.30 L947.60,552.32 L948.60,552.33 L949.60,552.35 L950.60,552.36 L951.60,552.37 L952.60,552.38 L953.60,552.39 L954.60,552.40 L955.60,552.41 L956.60,552.42 L957.60,552.42 L958.60,552.43 L959.60,552.44 L960.60,552.45 L961.60,552.46 L962.60,552.47 L963.60,552.48 L964.60,552.49 L965.60,552.50 L966.60,552.51 L967.60,552.52 L968.60,552.53 L969.60,552.54 L970.60,552.55 L971.60,552.56 L972.60,552.56 L973.60,552.57 L974.60,552.58 L975.60,552.58 L976.60,552.58 L977.60,552.58 L978.60,552.58 L979.60,552.58 L980.60,552.57 L981.60,552.56 L982.60,552.56 L983.60,552.55 L984.60,552.55 L985.60,552.54 L986.60,552.53 L987.60,552.53 L988.60,552.52 L989.60,552.52 L990.60,552.51 L991.60,552.50 L992.60,552.50 L993.60,552.49 L994.60,552.49 L995.60,552.48 L996.60,552.47 L997.60,552.47 L998.60,552.46 L999.60,552.45 L1000.60,552.45 L1001.60,552.44 L1002.60,552.44 L1003.60,552.43 L1004.60,552.42 L1005.60,552.42 L1006.60,552.41 L1007.60,552.41 L1008.40,552.41" fill="none" stroke="#000" stroke-width="3.6" stroke-linejoin="round"/>
<path d="M149.97,205.08 L154.66,203.06 L159.36,194.30 L164.05,185.12 L168.74,181.86 L173.43,181.72 L178.12,189.70 L182.81,184.40 L187.50,195.36 L192.20,198.12 L196.89,195.44 L201.58,196.88 L206.27,202.00 L210.96,201.26 L215.65,208.00 L220.34,206.80 L225.04,210.50 L229.73,210.16 L234.42,213.58 L239.11,210.50 L243.80,214.78 L248.49,213.30 L253.19,214.68 L257.88,218.94 L262.57,220.20 L267.26,224.14 L271.95,225.64 L276.64,226.24 L281.33,219.22 L286.03,228.44 L290.72,233.92 L295.41,230.38 L300.10,236.62 L304.79,245.42 L309.48,245.04 L314.17,250.42 L318.87,260.04 L323.56,276.90 L328.25,278.96 L332.94,284.26 L337.63,292.50 L342.32,290.00 L347.02,276.66 L351.71,277.34 L356.40,284.36 L361.09,273.26 L365.78,273.88 L370.47,281.60 L375.16,285.48 L379.86,282.86 L384.55,278.78 L389.24,276.76 L393.93,266.98 L398.62,260.46 L403.31,255.86 L408.00,254.84 L412.70,256.94 L417.39,259.88 L422.08,257.58 L426.77,260.12 L431.46,269.16 L436.15,264.14 L440.85,264.44 L445.54,263.28 L450.23,265.58 L454.92,274.80 L459.61,277.40 L464.30,282.46 L468.99,301.10 L473.69,308.60 L478.38,311.02 L483.07,325.36 L487.76,335.16 L492.45,339.78 L497.14,331.74 L501.84,347.20 L506.53,372.16 L511.22,383.48 L515.91,380.60 L520.60,393.78 L525.29,389.80 L529.98,368.92 L534.68,363.94 L539.37,364.70 L544.06,366.98 L548.75,388.60 L553.44,391.94 L558.13,381.30 L562.82,387.00 L567.52,385.66 L572.21,372.52 L576.90,398.92 L581.59,420.90 L586.28,435.46 L590.97,448.94 L595.67,447.46 L600.36,439.52 L605.05,435.64 L609.74,432.08 L614.43,438.66 L619.12,439.38 L623.81,443.54 L628.51,441.72 L633.20,418.28 L637.89,405.26 L642.58,400.44 L647.27,382.88 L651.96,385.54 L656.65,396.40 L661.35,402.82 L666.04,409.52 L670.73,421.84 L675.42,425.74 L680.11,429.14 L684.80,424.84 L689.50,428.38 L694.19,425.96 L698.88,432.82 L703.57,446.96 L708.26,450.82 L712.95,449.20 L717.64,457.10 L722.34,458.54 L727.03,464.54 L731.72,484.28 L736.41,492.78 L741.10,497.82 L745.79,503.10 L750.48,507.26 L755.18,498.40 L759.87,498.84 L764.56,499.49 L769.25,495.68 L773.94,491.69 L778.63,494.49 L783.33,498.58 L788.02,501.43 L792.71,509.77 L797.40,511.90 L802.09,513.87 L806.78,517.82 L811.47,525.86 L816.17,533.93 L820.86,546.19 L825.55,557.00 L830.24,563.20 L834.93,565.88 L839.62,566.56 L844.31,563.88 L849.01,558.41 L853.70,551.64 L858.39,545.75 L863.08,539.44 L867.77,540.73 L872.46,542.91 L877.15,544.96 L881.85,543.95 L886.54,542.16 L891.23,537.59 L895.92,534.09 L900.61,532.26 L905.30,534.89 L910.00,537.75 L914.69,540.21 L919.38,544.29 L924.07,547.73 L928.76,549.74 L933.45,550.59 L938.14,550.49 L942.84,551.74 L947.53,555.65 L952.22,556.67 L956.91,560.20 L961.60,563.22 L966.29,565.68 L970.99,566.72 L975.68,567.20 L980.37,566.62 L985.06,565.54 L989.75,560.00 L994.44,553.00 L999.13,550.00 L1003.83,545.12 L1008.52,541.62" fill="none" stroke="#A6A6A6" stroke-width="3.5" stroke-linejoin="round"/>
<line x1="196.9" y1="355.3" x2="104" y2="355.3" stroke="#000" stroke-width="2.4"/>
<path d="M93.7,355.3 L105.5,349.4 L105.5,361.2 Z" fill="#000"/>
<line x1="1017.4" y1="410.3" x2="1017.4" y2="507" stroke="#000" stroke-width="2.4"/>
<path d="M1017.4,517.8 L1011.2,505.2 L1023.6,505.2 Z" fill="#000"/>
<line x1="79.60" y1="107.60" x2="79.60" y2="658.80" stroke="#000" stroke-width="2"/>
<line x1="78.60" y1="657.80" x2="1018.90" y2="657.80" stroke="#000" stroke-width="2"/>
<line x1="75.60" y1="657.80" x2="79.60" y2="657.80" stroke="#000" stroke-width="2"/><line x1="75.60" y1="602.78" x2="79.60" y2="602.78" stroke="#000" stroke-width="2"/><line x1="75.60" y1="547.76" x2="79.60" y2="547.76" stroke="#000" stroke-width="2"/><line x1="75.60" y1="492.74" x2="79.60" y2="492.74" stroke="#000" stroke-width="2"/><line x1="75.60" y1="437.72" x2="79.60" y2="437.72" stroke="#000" stroke-width="2"/><line x1="75.60" y1="382.70" x2="79.60" y2="382.70" stroke="#000" stroke-width="2"/><line x1="75.60" y1="327.68" x2="79.60" y2="327.68" stroke="#000" stroke-width="2"/><line x1="75.60" y1="272.66" x2="79.60" y2="272.66" stroke="#000" stroke-width="2"/><line x1="75.60" y1="217.64" x2="79.60" y2="217.64" stroke="#000" stroke-width="2"/><line x1="75.60" y1="162.62" x2="79.60" y2="162.62" stroke="#000" stroke-width="2"/><line x1="75.60" y1="107.60" x2="79.60" y2="107.60" stroke="#000" stroke-width="2"/><line x1="79.60" y1="657.80" x2="79.60" y2="661.80" stroke="#000" stroke-width="2"/><line x1="196.89" y1="657.80" x2="196.89" y2="661.80" stroke="#000" stroke-width="2"/><line x1="314.17" y1="657.80" x2="314.17" y2="661.80" stroke="#000" stroke-width="2"/><line x1="431.46" y1="657.80" x2="431.46" y2="661.80" stroke="#000" stroke-width="2"/><line x1="548.75" y1="657.80" x2="548.75" y2="661.80" stroke="#000" stroke-width="2"/><line x1="666.04" y1="657.80" x2="666.04" y2="661.80" stroke="#000" stroke-width="2"/><line x1="783.33" y1="657.80" x2="783.33" y2="661.80" stroke="#000" stroke-width="2"/><line x1="900.61" y1="657.80" x2="900.61" y2="661.80" stroke="#000" stroke-width="2"/><line x1="1017.90" y1="657.80" x2="1017.90" y2="661.80" stroke="#000" stroke-width="2"/>
<text x="71.5" y="665.40" text-anchor="end" font-size="18.75">0</text><text x="71.5" y="610.38" text-anchor="end" font-size="18.75">10</text><text x="71.5" y="555.36" text-anchor="end" font-size="18.75">20</text><text x="71.5" y="500.34" text-anchor="end" font-size="18.75">30</text><text x="71.5" y="445.32" text-anchor="end" font-size="18.75">40</text><text x="71.5" y="390.30" text-anchor="end" font-size="18.75">50</text><text x="71.5" y="335.28" text-anchor="end" font-size="18.75">60</text><text x="71.5" y="280.26" text-anchor="end" font-size="18.75">70</text><text x="71.5" y="225.24" text-anchor="end" font-size="18.75">80</text><text x="71.5" y="170.22" text-anchor="end" font-size="18.75">90</text><text x="71.5" y="115.20" text-anchor="end" font-size="18.75">100</text><text transform="translate(90.00,675.60) rotate(-45)" text-anchor="end" font-size="18.75">1825</text><text transform="translate(207.29,675.60) rotate(-45)" text-anchor="end" font-size="18.75">1850</text><text transform="translate(324.57,675.60) rotate(-45)" text-anchor="end" font-size="18.75">1875</text><text transform="translate(441.86,675.60) rotate(-45)" text-anchor="end" font-size="18.75">1900</text><text transform="translate(559.15,675.60) rotate(-45)" text-anchor="end" font-size="18.75">1925</text><text transform="translate(676.44,675.60) rotate(-45)" text-anchor="end" font-size="18.75">1950</text><text transform="translate(793.73,675.60) rotate(-45)" text-anchor="end" font-size="18.75">1975</text><text transform="translate(911.01,675.60) rotate(-45)" text-anchor="end" font-size="18.75">2000</text><text transform="translate(1028.30,675.60) rotate(-45)" text-anchor="end" font-size="18.75">2025</text>
<text x="80" y="50" font-size="25" font-weight="bold">The Slow, then Sudden, Death of the Scottish 'Bastard' Verdict</text>
<text x="80" y="87.2" font-size="21.875">% of NOT PROVEN (NP) acquittals declined as NOT GUILTY (NG) superseded</text>
<text x="548.75" y="728" text-anchor="middle" font-size="22.5">Year</text>
<text transform="translate(32.8,382.7) rotate(-90)" text-anchor="middle" font-size="21.875">% NP (of NP+NG acquittals)</text>
<text x="253.0" y="403.7" text-anchor="middle" font-size="17.5">1st (Re)introduction of NOT GUILTY in</text>
<text x="253.0" y="423.9" text-anchor="middle" font-size="17.5">1728</text>
<text x="887.5" y="403.3" text-anchor="middle" font-size="17.5">Last use of NOT PROVEN</text>
<text x="887.5" y="423.3" text-anchor="middle" font-size="17.5">in 2025</text>
<circle cx="78" cy="770.3" r="3.7" fill="#0072B2" fill-opacity="0.5" stroke="#0072B2" stroke-opacity="0.5" stroke-width="1.45"/>
<circle cx="642.5" cy="761.2" r="3.7" fill="#E69F00" fill-opacity="0.5" stroke="#E69F00" stroke-opacity="0.5" stroke-width="1.45"/>
<text x="100" y="746.60" font-size="13.75">– Table of No. of Criminal Offenders in Scotland [1836-68]</text>
<text x="100" y="766.23" font-size="13.75">– Report on Judicial Statistics of Scotland, Criminal [1869-1924]</text>
<text x="100" y="785.86" font-size="13.75">– (Scottish Home (&amp; Health) Dept.) (Judicial) Criminal Statistics (Scotland) [1925-79]</text>
<text x="100" y="805.49" font-size="13.75">– Criminal Proceedings in Scottish Courts/Scotland [1991-2023]</text>
<text x="665" y="746.60" font-size="13.75">Revised Scot. Gov. figures FOI/202600510299 [1969-2023]</text>
<text x="665" y="766.23" font-size="13.75">(NB: Reporting by financial year 1988-89 onwards &amp;, along</text>
<text x="665" y="785.86" font-size="13.75">with FOI release, coverage is increased)</text>
<text x="665" y="805.49" font-size="13.75">Chart made by @peterw_jones</text>
</svg></body></html>
